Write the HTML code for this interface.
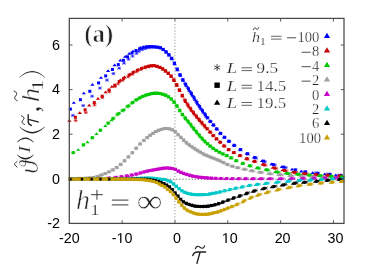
<!DOCTYPE html>
<html><head><meta charset="utf-8"><title>plot</title>
<style>html,body{margin:0;padding:0;background:#fff;}body{width:374px;height:273px;overflow:hidden;font-family:"Liberation Sans",sans-serif;}svg{display:block;will-change:transform;}</style>
</head><body>
<svg width="374" height="273" viewBox="0 0 374 273">
<rect width="374" height="273" fill="#fff"/>
<path d="M70.8 179.2H344.0" stroke="#5a5a5a" stroke-width="1" stroke-dasharray="1.1 2" fill="none"/>
<path d="M174.95 24.2V223.4" stroke="#8c8c8c" stroke-width="1" stroke-dasharray="1.1 2" fill="none"/>
<g id="data">
<path d="M70.90 115.40H74.90M72.90 114.00V116.80M71.34 113.84L74.46 116.96M71.34 116.96L74.46 113.84" stroke="#0000ff" stroke-width="0.6" fill="none"/>
<path d="M81.20 105.60H85.20M83.20 104.20V107.00M81.64 104.04L84.76 107.16M81.64 107.16L84.76 104.04" stroke="#0000ff" stroke-width="0.6" fill="none"/>
<path d="M90.10 96.20H94.10M92.10 94.80V97.60M90.54 94.64L93.66 97.76M90.54 97.76L93.66 94.64" stroke="#0000ff" stroke-width="0.6" fill="none"/>
<path d="M97.90 88.10H101.90M99.90 86.70V89.50M98.34 86.54L101.46 89.66M98.34 89.66L101.46 86.54" stroke="#0000ff" stroke-width="0.6" fill="none"/>
<path d="M105.00 80.10H109.00M107.00 78.70V81.50M105.44 78.54L108.56 81.66M105.44 81.66L108.56 78.54" stroke="#0000ff" stroke-width="0.6" fill="none"/>
<path d="M111.40 73.60H115.40M113.40 72.20V75.00M111.84 72.04L114.96 75.16M111.84 75.16L114.96 72.04" stroke="#0000ff" stroke-width="0.6" fill="none"/>
<path d="M117.20 68.20H121.20M119.20 66.80V69.60M117.64 66.64L120.76 69.76M117.64 69.76L120.76 66.64" stroke="#0000ff" stroke-width="0.6" fill="none"/>
<path d="M122.00 63.10H126.00M124.00 61.70V64.50M122.44 61.54L125.56 64.66M122.44 64.66L125.56 61.54" stroke="#0000ff" stroke-width="0.6" fill="none"/>
<path d="M126.50 59.20H130.50M128.50 57.80V60.60M126.94 57.64L130.06 60.76M126.94 60.76L130.06 57.64" stroke="#0000ff" stroke-width="0.6" fill="none"/>
<path d="M130.50 56.10H134.50M132.50 54.70V57.50M130.94 54.54L134.06 57.66M130.94 57.66L134.06 54.54" stroke="#0000ff" stroke-width="0.6" fill="none"/>
<path d="M134.50 53.30H138.50M136.50 51.90V54.70M134.94 51.74L138.06 54.86M134.94 54.86L138.06 51.74" stroke="#0000ff" stroke-width="0.6" fill="none"/>
<path d="M136.84 51.32H140.84M138.84 49.92V52.72M137.28 49.76L140.40 52.88M137.28 52.88L140.40 49.76" stroke="#0000ff" stroke-width="0.6" fill="none"/>
<path d="M140.32 49.68H144.32M142.32 48.28V51.08M140.76 48.12L143.88 51.24M140.76 51.24L143.88 48.12" stroke="#0000ff" stroke-width="0.6" fill="none"/>
<path d="M143.60 48.53H147.60M145.60 47.13V49.93M144.04 46.97L147.16 50.09M144.04 50.09L147.16 46.97" stroke="#0000ff" stroke-width="0.6" fill="none"/>
<path d="M146.61 47.73H150.61M148.61 46.33V49.13M147.05 46.17L150.17 49.29M147.05 49.29L150.17 46.17" stroke="#0000ff" stroke-width="0.6" fill="none"/>
<path d="M149.56 47.38H153.56M151.56 45.98V48.78M150.00 45.82L153.12 48.94M150.00 48.94L153.12 45.82" stroke="#0000ff" stroke-width="0.6" fill="none"/>
<path d="M152.40 47.31H156.40M154.40 45.91V48.71M152.84 45.75L155.96 48.87M152.84 48.87L155.96 45.75" stroke="#0000ff" stroke-width="0.6" fill="none"/>
<path d="M155.25 47.33H159.25M157.25 45.93V48.73M155.69 45.77L158.81 48.89M155.69 48.89L158.81 45.77" stroke="#0000ff" stroke-width="0.6" fill="none"/>
<path d="M158.09 47.62H162.09M160.09 46.22V49.02M158.53 46.06L161.65 49.18M158.53 49.18L161.65 46.06" stroke="#0000ff" stroke-width="0.6" fill="none"/>
<path d="M160.93 49.18H164.93M162.93 47.78V50.58M161.37 47.62L164.49 50.74M161.37 50.74L164.49 47.62" stroke="#0000ff" stroke-width="0.6" fill="none"/>
<path d="M163.78 51.58H167.78M165.78 50.18V52.98M164.22 50.02L167.34 53.14M164.22 53.14L167.34 50.02" stroke="#0000ff" stroke-width="0.6" fill="none"/>
<path d="M166.61 54.44H170.61M168.61 53.04V55.84M167.05 52.88L170.17 56.00M167.05 56.00L170.17 52.88" stroke="#0000ff" stroke-width="0.6" fill="none"/>
<path d="M169.41 58.04H173.41M171.41 56.64V59.44M169.85 56.48L172.97 59.60M169.85 59.60L172.97 56.48" stroke="#0000ff" stroke-width="0.6" fill="none"/>
<path d="M172.21 62.82H176.21M174.21 61.42V64.22M172.65 61.26L175.77 64.38M172.65 64.38L175.77 61.26" stroke="#0000ff" stroke-width="0.6" fill="none"/>
<path d="M175.01 68.70H179.01M177.01 67.30V70.10M175.45 67.14L178.57 70.26M175.45 70.26L178.57 67.14" stroke="#0000ff" stroke-width="0.6" fill="none"/>
<path d="M177.81 74.40H181.81M179.81 73.00V75.80M178.25 72.84L181.37 75.96M178.25 75.96L181.37 72.84" stroke="#0000ff" stroke-width="0.6" fill="none"/>
<path d="M180.61 79.34H184.61M182.61 77.94V80.74M181.05 77.78L184.17 80.90M181.05 80.90L184.17 77.78" stroke="#0000ff" stroke-width="0.6" fill="none"/>
<path d="M183.06 83.42H187.06M185.06 82.02V84.82M183.50 81.86L186.62 84.98M183.50 84.98L186.62 81.86" stroke="#0000ff" stroke-width="0.6" fill="none"/>
<path d="M185.56 87.42H189.56M187.56 86.02V88.82M186.00 85.86L189.12 88.98M186.00 88.98L189.12 85.86" stroke="#0000ff" stroke-width="0.6" fill="none"/>
<path d="M188.36 91.93H192.36M190.36 90.53V93.33M188.80 90.37L191.92 93.49M188.80 93.49L191.92 90.37" stroke="#0000ff" stroke-width="0.6" fill="none"/>
<path d="M191.16 96.49H195.16M193.16 95.09V97.89M191.60 94.93L194.72 98.05M191.60 98.05L194.72 94.93" stroke="#0000ff" stroke-width="0.6" fill="none"/>
<path d="M193.96 100.99H197.96M195.96 99.59V102.39M194.40 99.43L197.52 102.55M194.40 102.55L197.52 99.43" stroke="#0000ff" stroke-width="0.6" fill="none"/>
<path d="M196.76 105.31H200.76M198.76 103.91V106.71M197.20 103.75L200.32 106.87M197.20 106.87L200.32 103.75" stroke="#0000ff" stroke-width="0.6" fill="none"/>
<path d="M199.56 109.51H203.56M201.56 108.11V110.91M200.00 107.95L203.12 111.07M200.00 111.07L203.12 107.95" stroke="#0000ff" stroke-width="0.6" fill="none"/>
<path d="M202.36 113.58H206.36M204.36 112.18V114.98M202.80 112.02L205.92 115.14M202.80 115.14L205.92 112.02" stroke="#0000ff" stroke-width="0.6" fill="none"/>
<path d="M205.71 118.14H209.71M207.71 116.74V119.54M206.15 116.58L209.27 119.70M206.15 119.70L209.27 116.58" stroke="#0000ff" stroke-width="0.6" fill="none"/>
<path d="M208.71 121.82H212.71M210.71 120.42V123.22M209.15 120.26L212.27 123.38M209.15 123.38L212.27 120.26" stroke="#0000ff" stroke-width="0.6" fill="none"/>
<path d="M211.85 125.47H215.85M213.85 124.07V126.87M212.29 123.91L215.41 127.03M212.29 127.03L215.41 123.91" stroke="#0000ff" stroke-width="0.6" fill="none"/>
<path d="M215.16 129.45H219.16M217.16 128.05V130.85M215.60 127.89L218.72 131.01M215.60 131.01L218.72 127.89" stroke="#0000ff" stroke-width="0.6" fill="none"/>
<path d="M218.82 133.76H222.82M220.82 132.36V135.16M219.26 132.20L222.38 135.32M219.26 135.32L222.38 132.20" stroke="#0000ff" stroke-width="0.6" fill="none"/>
<path d="M222.86 137.67H226.86M224.86 136.27V139.07M223.30 136.11L226.42 139.23M223.30 139.23L226.42 136.11" stroke="#0000ff" stroke-width="0.6" fill="none"/>
<path d="M227.39 141.57H231.39M229.39 140.17V142.97M227.83 140.01L230.95 143.13M227.83 143.13L230.95 140.01" stroke="#0000ff" stroke-width="0.6" fill="none"/>
<path d="M232.66 145.68H236.66M234.66 144.28V147.08M233.10 144.12L236.22 147.24M233.10 147.24L236.22 144.12" stroke="#0000ff" stroke-width="0.6" fill="none"/>
<path d="M238.89 149.90H242.89M240.89 148.50V151.30M239.33 148.34L242.45 151.46M239.33 151.46L242.45 148.34" stroke="#0000ff" stroke-width="0.6" fill="none"/>
<path d="M246.17 154.12H250.17M248.17 152.72V155.52M246.61 152.56L249.73 155.68M246.61 155.68L249.73 152.56" stroke="#0000ff" stroke-width="0.6" fill="none"/>
<path d="M254.11 158.09H258.11M256.11 156.69V159.49M254.55 156.53L257.67 159.65M254.55 159.65L257.67 156.53" stroke="#0000ff" stroke-width="0.6" fill="none"/>
<path d="M262.94 161.68H266.94M264.94 160.28V163.08M263.38 160.12L266.50 163.24M263.38 163.24L266.50 160.12" stroke="#0000ff" stroke-width="0.6" fill="none"/>
<path d="M272.89 164.98H276.89M274.89 163.58V166.38M273.33 163.42L276.45 166.54M273.33 166.54L276.45 163.42" stroke="#0000ff" stroke-width="0.6" fill="none"/>
<path d="M283.77 167.59H287.77M285.77 166.19V168.99M284.21 166.03L287.33 169.15M284.21 169.15L287.33 166.03" stroke="#0000ff" stroke-width="0.6" fill="none"/>
<path d="M293.53 169.96H297.53M295.53 168.56V171.36M293.97 168.40L297.09 171.52M293.97 171.52L297.09 168.40" stroke="#0000ff" stroke-width="0.6" fill="none"/>
<path d="M302.27 171.74H306.27M304.27 170.34V173.14M302.71 170.18L305.83 173.30M302.71 173.30L305.83 170.18" stroke="#0000ff" stroke-width="0.6" fill="none"/>
<path d="M313.70 173.00H317.70M315.70 171.60V174.40M314.14 171.44L317.26 174.56M314.14 174.56L317.26 171.44" stroke="#0000ff" stroke-width="0.6" fill="none"/>
<path d="M325.80 174.11H329.80M327.80 172.71V175.51M326.24 172.55L329.36 175.67M326.24 175.67L329.36 172.55" stroke="#0000ff" stroke-width="0.6" fill="none"/>
<path d="M336.80 175.22H340.80M338.80 173.82V176.62M337.24 173.66L340.36 176.78M337.24 176.78L340.36 173.66" stroke="#0000ff" stroke-width="0.6" fill="none"/>
<rect x="68.90" y="107.60" width="3.0" height="3.0" fill="#0000ff"/>
<rect x="78.90" y="98.20" width="3.0" height="3.0" fill="#0000ff"/>
<rect x="88.30" y="89.80" width="3.0" height="3.0" fill="#0000ff"/>
<rect x="97.10" y="81.40" width="3.0" height="3.0" fill="#0000ff"/>
<rect x="104.20" y="74.40" width="3.0" height="3.0" fill="#0000ff"/>
<rect x="110.90" y="68.00" width="3.0" height="3.0" fill="#0000ff"/>
<rect x="116.80" y="63.10" width="3.0" height="3.0" fill="#0000ff"/>
<rect x="121.90" y="58.80" width="3.0" height="3.0" fill="#0000ff"/>
<rect x="126.00" y="55.30" width="3.0" height="3.0" fill="#0000ff"/>
<rect x="130.50" y="51.50" width="3.0" height="3.0" fill="#0000ff"/>
<rect x="134.50" y="49.00" width="3.0" height="3.0" fill="#0000ff"/>
<rect x="138.10" y="47.40" width="3.0" height="3.0" fill="#0000ff"/>
<rect x="141.50" y="46.20" width="3.0" height="3.0" fill="#0000ff"/>
<rect x="144.70" y="45.47" width="3.0" height="3.0" fill="#0000ff"/>
<rect x="147.69" y="45.04" width="3.0" height="3.0" fill="#0000ff"/>
<rect x="150.59" y="45.06" width="3.0" height="3.0" fill="#0000ff"/>
<rect x="153.39" y="45.29" width="3.0" height="3.0" fill="#0000ff"/>
<rect x="156.19" y="45.63" width="3.0" height="3.0" fill="#0000ff"/>
<rect x="158.99" y="46.25" width="3.0" height="3.0" fill="#0000ff"/>
<rect x="161.79" y="47.96" width="3.0" height="3.0" fill="#0000ff"/>
<rect x="164.59" y="50.35" width="3.0" height="3.0" fill="#0000ff"/>
<rect x="167.39" y="53.27" width="3.0" height="3.0" fill="#0000ff"/>
<rect x="170.19" y="56.94" width="3.0" height="3.0" fill="#0000ff"/>
<rect x="172.99" y="61.88" width="3.0" height="3.0" fill="#0000ff"/>
<rect x="175.79" y="67.82" width="3.0" height="3.0" fill="#0000ff"/>
<rect x="178.59" y="73.41" width="3.0" height="3.0" fill="#0000ff"/>
<rect x="181.39" y="78.32" width="3.0" height="3.0" fill="#0000ff"/>
<rect x="184.19" y="82.93" width="3.0" height="3.0" fill="#0000ff"/>
<rect x="186.99" y="87.40" width="3.0" height="3.0" fill="#0000ff"/>
<rect x="189.79" y="91.94" width="3.0" height="3.0" fill="#0000ff"/>
<rect x="192.59" y="96.49" width="3.0" height="3.0" fill="#0000ff"/>
<rect x="195.39" y="100.93" width="3.0" height="3.0" fill="#0000ff"/>
<rect x="198.19" y="105.20" width="3.0" height="3.0" fill="#0000ff"/>
<rect x="200.99" y="109.38" width="3.0" height="3.0" fill="#0000ff"/>
<rect x="203.79" y="113.38" width="3.0" height="3.0" fill="#0000ff"/>
<rect x="205.79" y="116.10" width="3.0" height="3.0" fill="#0000ff"/>
<rect x="208.78" y="119.82" width="3.0" height="3.0" fill="#0000ff"/>
<rect x="211.92" y="123.47" width="3.0" height="3.0" fill="#0000ff"/>
<rect x="215.22" y="127.39" width="3.0" height="3.0" fill="#0000ff"/>
<rect x="218.87" y="131.79" width="3.0" height="3.0" fill="#0000ff"/>
<rect x="222.89" y="135.75" width="3.0" height="3.0" fill="#0000ff"/>
<rect x="227.42" y="139.68" width="3.0" height="3.0" fill="#0000ff"/>
<rect x="232.67" y="143.82" width="3.0" height="3.0" fill="#0000ff"/>
<rect x="238.87" y="148.08" width="3.0" height="3.0" fill="#0000ff"/>
<rect x="245.87" y="152.18" width="3.0" height="3.0" fill="#0000ff"/>
<rect x="253.50" y="156.08" width="3.0" height="3.0" fill="#0000ff"/>
<rect x="262.00" y="159.64" width="3.0" height="3.0" fill="#0000ff"/>
<rect x="271.70" y="163.00" width="3.0" height="3.0" fill="#0000ff"/>
<rect x="282.30" y="165.60" width="3.0" height="3.0" fill="#0000ff"/>
<rect x="293.81" y="168.41" width="3.0" height="3.0" fill="#0000ff"/>
<rect x="304.22" y="170.44" width="3.0" height="3.0" fill="#0000ff"/>
<rect x="316.50" y="171.73" width="3.0" height="3.0" fill="#0000ff"/>
<rect x="328.60" y="172.83" width="3.0" height="3.0" fill="#0000ff"/>
<rect x="339.60" y="173.90" width="3.0" height="3.0" fill="#0000ff"/>
<path d="M71.65 103.85L75.95 103.85L73.80 101.15Z" fill="#0000ff"/>
<path d="M81.65 94.35L85.95 94.35L83.80 91.65Z" fill="#0000ff"/>
<path d="M90.25 85.75L94.55 85.75L92.40 83.05Z" fill="#0000ff"/>
<path d="M98.85 78.85L103.15 78.85L101.00 76.15Z" fill="#0000ff"/>
<path d="M105.95 71.95L110.25 71.95L108.10 69.25Z" fill="#0000ff"/>
<path d="M112.45 66.25L116.75 66.25L114.60 63.55Z" fill="#0000ff"/>
<path d="M118.15 61.55L122.45 61.55L120.30 58.85Z" fill="#0000ff"/>
<path d="M123.05 57.75L127.35 57.75L125.20 55.05Z" fill="#0000ff"/>
<path d="M127.05 54.75L131.35 54.75L129.20 52.05Z" fill="#0000ff"/>
<path d="M130.85 52.35L135.15 52.35L133.00 49.65Z" fill="#0000ff"/>
<path d="M138.21 48.79L142.51 48.79L140.36 46.09Z" fill="#0000ff"/>
<path d="M141.53 47.91L145.83 47.91L143.68 45.21Z" fill="#0000ff"/>
<path d="M144.65 47.49L148.95 47.49L146.80 44.79Z" fill="#0000ff"/>
<path d="M147.62 47.34L151.92 47.34L149.77 44.64Z" fill="#0000ff"/>
<path d="M150.46 47.58L154.76 47.58L152.61 44.88Z" fill="#0000ff"/>
<path d="M153.22 47.95L157.52 47.95L155.37 45.25Z" fill="#0000ff"/>
<path d="M155.98 48.46L160.28 48.46L158.13 45.76Z" fill="#0000ff"/>
<path d="M158.73 49.26L163.03 49.26L160.88 46.56Z" fill="#0000ff"/>
<path d="M161.49 51.09L165.79 51.09L163.64 48.39Z" fill="#0000ff"/>
<path d="M164.25 53.49L168.55 53.49L166.40 50.79Z" fill="#0000ff"/>
<path d="M167.02 56.45L171.32 56.45L169.17 53.75Z" fill="#0000ff"/>
<path d="M169.82 60.20L174.12 60.20L171.97 57.50Z" fill="#0000ff"/>
<path d="M172.62 65.29L176.92 65.29L174.77 62.59Z" fill="#0000ff"/>
<path d="M175.42 71.29L179.72 71.29L177.57 68.59Z" fill="#0000ff"/>
<path d="M178.22 76.77L182.52 76.77L180.37 74.07Z" fill="#0000ff"/>
<path d="M181.02 81.64L185.32 81.64L183.17 78.94Z" fill="#0000ff"/>
<path d="M184.16 86.78L188.46 86.78L186.31 84.08Z" fill="#0000ff"/>
<path d="M187.26 91.74L191.56 91.74L189.41 89.04Z" fill="#0000ff"/>
<path d="M190.06 96.30L194.36 96.30L192.21 93.60Z" fill="#0000ff"/>
<path d="M192.86 100.82L197.16 100.82L195.01 98.12Z" fill="#0000ff"/>
<path d="M195.66 105.21L199.96 105.21L197.81 102.51Z" fill="#0000ff"/>
<path d="M198.46 109.44L202.76 109.44L200.61 106.74Z" fill="#0000ff"/>
<path d="M201.26 113.57L205.56 113.57L203.41 110.87Z" fill="#0000ff"/>
<path d="M204.06 117.50L208.36 117.50L206.21 114.80Z" fill="#0000ff"/>
<path d="M207.70 122.16L212.00 122.16L209.85 119.46Z" fill="#0000ff"/>
<path d="M210.84 125.82L215.14 125.82L212.99 123.12Z" fill="#0000ff"/>
<path d="M214.13 129.69L218.43 129.69L216.28 126.99Z" fill="#0000ff"/>
<path d="M217.76 134.16L222.06 134.16L219.91 131.46Z" fill="#0000ff"/>
<path d="M221.78 138.18L226.08 138.18L223.93 135.48Z" fill="#0000ff"/>
<path d="M226.30 142.14L230.60 142.14L228.45 139.44Z" fill="#0000ff"/>
<path d="M231.53 146.31L235.83 146.31L233.68 143.61Z" fill="#0000ff"/>
<path d="M237.71 150.60L242.01 150.60L239.86 147.90Z" fill="#0000ff"/>
<path d="M244.42 154.59L248.72 154.59L246.57 151.89Z" fill="#0000ff"/>
<path d="M251.74 158.40L256.04 158.40L253.89 155.70Z" fill="#0000ff"/>
<path d="M259.91 161.94L264.21 161.94L262.06 159.24Z" fill="#0000ff"/>
<path d="M269.36 165.32L273.66 165.32L271.51 162.62Z" fill="#0000ff"/>
<path d="M279.68 167.99L283.98 167.99L281.83 165.29Z" fill="#0000ff"/>
<path d="M289.96 170.53L294.26 170.53L292.11 167.83Z" fill="#0000ff"/>
<path d="M299.04 172.54L303.34 172.54L301.19 169.84Z" fill="#0000ff"/>
<path d="M310.55 174.06L314.85 174.06L312.70 171.36Z" fill="#0000ff"/>
<path d="M322.65 175.19L326.95 175.19L324.80 172.49Z" fill="#0000ff"/>
<path d="M333.65 176.28L337.95 176.28L335.80 173.58Z" fill="#0000ff"/>
<path d="M73.70 120.50H77.70M75.70 119.10V121.90M74.14 118.94L77.26 122.06M74.14 122.06L77.26 118.94" stroke="#c80000" stroke-width="0.6" fill="none"/>
<path d="M83.80 112.60H87.80M85.80 111.20V114.00M84.24 111.04L87.36 114.16M84.24 114.16L87.36 111.04" stroke="#c80000" stroke-width="0.6" fill="none"/>
<path d="M92.50 105.00H96.50M94.50 103.60V106.40M92.94 103.44L96.06 106.56M92.94 106.56L96.06 103.44" stroke="#c80000" stroke-width="0.6" fill="none"/>
<path d="M100.40 97.60H104.40M102.40 96.20V99.00M100.84 96.04L103.96 99.16M100.84 99.16L103.96 96.04" stroke="#c80000" stroke-width="0.6" fill="none"/>
<path d="M107.30 91.80H111.30M109.30 90.40V93.20M107.74 90.24L110.86 93.36M107.74 93.36L110.86 90.24" stroke="#c80000" stroke-width="0.6" fill="none"/>
<path d="M113.00 86.60H117.00M115.00 85.20V88.00M113.44 85.04L116.56 88.16M113.44 88.16L116.56 85.04" stroke="#c80000" stroke-width="0.6" fill="none"/>
<path d="M116.11 83.85H120.11M118.11 82.45V85.25M116.55 82.29L119.67 85.41M116.55 85.41L119.67 82.29" stroke="#c80000" stroke-width="0.6" fill="none"/>
<path d="M120.58 80.40H124.58M122.58 79.00V81.80M121.02 78.84L124.14 81.96M121.02 81.96L124.14 78.84" stroke="#c80000" stroke-width="0.6" fill="none"/>
<path d="M126.16 76.87H130.16M128.16 75.47V78.27M126.60 75.31L129.72 78.43M126.60 78.43L129.72 75.31" stroke="#c80000" stroke-width="0.6" fill="none"/>
<path d="M130.12 74.37H134.12M132.12 72.97V75.77M130.56 72.81L133.68 75.93M130.56 75.93L133.68 72.81" stroke="#c80000" stroke-width="0.6" fill="none"/>
<path d="M134.59 71.70H138.59M136.59 70.30V73.10M135.03 70.14L138.15 73.26M135.03 73.26L138.15 70.14" stroke="#c80000" stroke-width="0.6" fill="none"/>
<path d="M138.79 69.67H142.79M140.79 68.27V71.07M139.23 68.11L142.35 71.23M139.23 71.23L142.35 68.11" stroke="#c80000" stroke-width="0.6" fill="none"/>
<path d="M142.68 67.93H146.68M144.68 66.53V69.33M143.12 66.37L146.24 69.49M143.12 69.49L146.24 66.37" stroke="#c80000" stroke-width="0.6" fill="none"/>
<path d="M146.02 66.83H150.02M148.02 65.43V68.23M146.46 65.27L149.58 68.39M146.46 68.39L149.58 65.27" stroke="#c80000" stroke-width="0.6" fill="none"/>
<path d="M148.97 66.04H152.97M150.97 64.64V67.44M149.41 64.48L152.53 67.60M149.41 67.60L152.53 64.48" stroke="#c80000" stroke-width="0.6" fill="none"/>
<path d="M151.84 65.71H155.84M153.84 64.31V67.11M152.28 64.15L155.40 67.27M152.28 67.27L155.40 64.15" stroke="#c80000" stroke-width="0.6" fill="none"/>
<path d="M154.68 66.21H158.68M156.68 64.81V67.61M155.12 64.65L158.24 67.77M155.12 67.77L158.24 64.65" stroke="#c80000" stroke-width="0.6" fill="none"/>
<path d="M157.52 67.20H161.52M159.52 65.80V68.60M157.96 65.64L161.08 68.76M157.96 68.76L161.08 65.64" stroke="#c80000" stroke-width="0.6" fill="none"/>
<path d="M160.37 68.57H164.37M162.37 67.17V69.97M160.81 67.01L163.93 70.13M160.81 70.13L163.93 67.01" stroke="#c80000" stroke-width="0.6" fill="none"/>
<path d="M163.21 70.64H167.21M165.21 69.24V72.04M163.65 69.08L166.77 72.20M163.65 72.20L166.77 69.08" stroke="#c80000" stroke-width="0.6" fill="none"/>
<path d="M166.05 72.99H170.05M168.05 71.59V74.39M166.49 71.43L169.61 74.55M166.49 74.55L169.61 71.43" stroke="#c80000" stroke-width="0.6" fill="none"/>
<path d="M168.85 75.84H172.85M170.85 74.44V77.24M169.29 74.28L172.41 77.40M169.29 77.40L172.41 74.28" stroke="#c80000" stroke-width="0.6" fill="none"/>
<path d="M171.65 79.65H175.65M173.65 78.25V81.05M172.09 78.09L175.21 81.21M172.09 81.21L175.21 78.09" stroke="#c80000" stroke-width="0.6" fill="none"/>
<path d="M174.45 84.32H178.45M176.45 82.92V85.72M174.89 82.76L178.01 85.88M174.89 85.88L178.01 82.76" stroke="#c80000" stroke-width="0.6" fill="none"/>
<path d="M177.25 89.53H181.25M179.25 88.13V90.93M177.69 87.97L180.81 91.09M177.69 91.09L180.81 87.97" stroke="#c80000" stroke-width="0.6" fill="none"/>
<path d="M180.05 95.02H184.05M182.05 93.62V96.42M180.49 93.46L183.61 96.58M180.49 96.58L183.61 93.46" stroke="#c80000" stroke-width="0.6" fill="none"/>
<path d="M182.58 99.70H186.58M184.58 98.30V101.10M183.02 98.14L186.14 101.26M183.02 101.26L186.14 98.14" stroke="#c80000" stroke-width="0.6" fill="none"/>
<path d="M185.01 103.67H189.01M187.01 102.27V105.07M185.45 102.11L188.57 105.23M185.45 105.23L188.57 102.11" stroke="#c80000" stroke-width="0.6" fill="none"/>
<path d="M187.81 107.77H191.81M189.81 106.37V109.17M188.25 106.21L191.37 109.33M188.25 109.33L191.37 106.21" stroke="#c80000" stroke-width="0.6" fill="none"/>
<path d="M190.61 111.55H194.61M192.61 110.15V112.95M191.05 109.99L194.17 113.11M191.05 113.11L194.17 109.99" stroke="#c80000" stroke-width="0.6" fill="none"/>
<path d="M193.41 115.10H197.41M195.41 113.70V116.50M193.85 113.54L196.97 116.66M193.85 116.66L196.97 113.54" stroke="#c80000" stroke-width="0.6" fill="none"/>
<path d="M196.21 118.53H200.21M198.21 117.13V119.93M196.65 116.97L199.77 120.09M196.65 120.09L199.77 116.97" stroke="#c80000" stroke-width="0.6" fill="none"/>
<path d="M199.01 121.83H203.01M201.01 120.43V123.23M199.45 120.27L202.57 123.39M199.45 123.39L202.57 120.27" stroke="#c80000" stroke-width="0.6" fill="none"/>
<path d="M201.81 125.00H205.81M203.81 123.60V126.40M202.25 123.44L205.37 126.56M202.25 126.56L205.37 123.44" stroke="#c80000" stroke-width="0.6" fill="none"/>
<path d="M205.54 129.16H209.54M207.54 127.76V130.56M205.98 127.60L209.10 130.72M205.98 130.72L209.10 127.60" stroke="#c80000" stroke-width="0.6" fill="none"/>
<path d="M208.52 132.50H212.52M210.52 131.10V133.90M208.96 130.94L212.08 134.06M208.96 134.06L212.08 130.94" stroke="#c80000" stroke-width="0.6" fill="none"/>
<path d="M211.66 135.91H215.66M213.66 134.51V137.31M212.10 134.35L215.22 137.47M212.10 137.47L215.22 134.35" stroke="#c80000" stroke-width="0.6" fill="none"/>
<path d="M214.96 139.21H218.96M216.96 137.81V140.61M215.40 137.65L218.52 140.77M215.40 140.77L218.52 137.65" stroke="#c80000" stroke-width="0.6" fill="none"/>
<path d="M218.59 142.54H222.59M220.59 141.14V143.94M219.03 140.98L222.15 144.10M219.03 144.10L222.15 140.98" stroke="#c80000" stroke-width="0.6" fill="none"/>
<path d="M222.60 146.29H226.60M224.60 144.89V147.69M223.04 144.73L226.16 147.85M223.04 147.85L226.16 144.73" stroke="#c80000" stroke-width="0.6" fill="none"/>
<path d="M227.11 149.87H231.11M229.11 148.47V151.27M227.55 148.31L230.67 151.43M227.55 151.43L230.67 148.31" stroke="#c80000" stroke-width="0.6" fill="none"/>
<path d="M232.32 152.76H236.32M234.32 151.36V154.16M232.76 151.20L235.88 154.32M232.76 154.32L235.88 151.20" stroke="#c80000" stroke-width="0.6" fill="none"/>
<path d="M238.47 155.77H242.47M240.47 154.37V157.17M238.91 154.21L242.03 157.33M238.91 157.33L242.03 154.21" stroke="#c80000" stroke-width="0.6" fill="none"/>
<path d="M245.72 159.03H249.72M247.72 157.63V160.43M246.16 157.47L249.28 160.59M246.16 160.59L249.28 157.47" stroke="#c80000" stroke-width="0.6" fill="none"/>
<path d="M253.59 161.69H257.59M255.59 160.29V163.09M254.03 160.13L257.15 163.25M254.03 163.25L257.15 160.13" stroke="#c80000" stroke-width="0.6" fill="none"/>
<path d="M263.45 165.19H267.45M265.45 163.79V166.59M263.89 163.63L267.01 166.75M263.89 166.75L267.01 163.63" stroke="#c80000" stroke-width="0.6" fill="none"/>
<path d="M274.23 168.45H278.23M276.23 167.05V169.85M274.67 166.89L277.79 170.01M274.67 170.01L277.79 166.89" stroke="#c80000" stroke-width="0.6" fill="none"/>
<path d="M284.49 170.87H288.49M286.49 169.47V172.27M284.93 169.31L288.05 172.43M284.93 172.43L288.05 169.31" stroke="#c80000" stroke-width="0.6" fill="none"/>
<path d="M294.35 172.57H298.35M296.35 171.17V173.97M294.79 171.01L297.91 174.13M294.79 174.13L297.91 171.01" stroke="#c80000" stroke-width="0.6" fill="none"/>
<path d="M304.68 173.85H308.68M306.68 172.45V175.25M305.12 172.29L308.24 175.41M305.12 175.41L308.24 172.29" stroke="#c80000" stroke-width="0.6" fill="none"/>
<path d="M315.55 174.79H319.55M317.55 173.39V176.19M315.99 173.23L319.11 176.35M315.99 176.35L319.11 173.23" stroke="#c80000" stroke-width="0.6" fill="none"/>
<path d="M326.95 175.36H330.95M328.95 173.96V176.76M327.39 173.80L330.51 176.92M327.39 176.92L330.51 173.80" stroke="#c80000" stroke-width="0.6" fill="none"/>
<path d="M338.84 175.95H342.84M340.84 174.55V177.35M339.28 174.39L342.40 177.51M339.28 177.51L342.40 174.39" stroke="#c80000" stroke-width="0.6" fill="none"/>
<rect x="73.90" y="115.80" width="3.0" height="3.0" fill="#c80000"/>
<rect x="83.60" y="108.30" width="3.0" height="3.0" fill="#c80000"/>
<rect x="92.80" y="101.10" width="3.0" height="3.0" fill="#c80000"/>
<rect x="100.70" y="94.70" width="3.0" height="3.0" fill="#c80000"/>
<rect x="107.60" y="88.50" width="3.0" height="3.0" fill="#c80000"/>
<rect x="113.30" y="83.70" width="3.0" height="3.0" fill="#c80000"/>
<rect x="117.70" y="79.98" width="3.0" height="3.0" fill="#c80000"/>
<rect x="122.10" y="76.86" width="3.0" height="3.0" fill="#c80000"/>
<rect x="127.60" y="73.56" width="3.0" height="3.0" fill="#c80000"/>
<rect x="131.50" y="71.16" width="3.0" height="3.0" fill="#c80000"/>
<rect x="135.90" y="68.72" width="3.0" height="3.0" fill="#c80000"/>
<rect x="140.00" y="66.93" width="3.0" height="3.0" fill="#c80000"/>
<rect x="143.80" y="65.55" width="3.0" height="3.0" fill="#c80000"/>
<rect x="147.10" y="64.73" width="3.0" height="3.0" fill="#c80000"/>
<rect x="150.01" y="64.19" width="3.0" height="3.0" fill="#c80000"/>
<rect x="152.83" y="64.19" width="3.0" height="3.0" fill="#c80000"/>
<rect x="155.63" y="64.85" width="3.0" height="3.0" fill="#c80000"/>
<rect x="158.43" y="65.86" width="3.0" height="3.0" fill="#c80000"/>
<rect x="161.23" y="67.31" width="3.0" height="3.0" fill="#c80000"/>
<rect x="164.03" y="69.39" width="3.0" height="3.0" fill="#c80000"/>
<rect x="166.83" y="71.75" width="3.0" height="3.0" fill="#c80000"/>
<rect x="169.63" y="74.66" width="3.0" height="3.0" fill="#c80000"/>
<rect x="172.43" y="78.59" width="3.0" height="3.0" fill="#c80000"/>
<rect x="175.23" y="83.33" width="3.0" height="3.0" fill="#c80000"/>
<rect x="178.03" y="88.56" width="3.0" height="3.0" fill="#c80000"/>
<rect x="180.83" y="94.07" width="3.0" height="3.0" fill="#c80000"/>
<rect x="183.63" y="99.13" width="3.0" height="3.0" fill="#c80000"/>
<rect x="186.43" y="103.57" width="3.0" height="3.0" fill="#c80000"/>
<rect x="189.23" y="107.55" width="3.0" height="3.0" fill="#c80000"/>
<rect x="192.03" y="111.24" width="3.0" height="3.0" fill="#c80000"/>
<rect x="194.83" y="114.74" width="3.0" height="3.0" fill="#c80000"/>
<rect x="197.63" y="118.14" width="3.0" height="3.0" fill="#c80000"/>
<rect x="200.43" y="121.38" width="3.0" height="3.0" fill="#c80000"/>
<rect x="203.23" y="124.53" width="3.0" height="3.0" fill="#c80000"/>
<rect x="205.62" y="127.19" width="3.0" height="3.0" fill="#c80000"/>
<rect x="208.60" y="130.53" width="3.0" height="3.0" fill="#c80000"/>
<rect x="211.73" y="133.95" width="3.0" height="3.0" fill="#c80000"/>
<rect x="215.02" y="137.29" width="3.0" height="3.0" fill="#c80000"/>
<rect x="218.64" y="140.63" width="3.0" height="3.0" fill="#c80000"/>
<rect x="222.64" y="144.37" width="3.0" height="3.0" fill="#c80000"/>
<rect x="227.14" y="148.06" width="3.0" height="3.0" fill="#c80000"/>
<rect x="232.34" y="151.02" width="3.0" height="3.0" fill="#c80000"/>
<rect x="238.47" y="154.03" width="3.0" height="3.0" fill="#c80000"/>
<rect x="245.44" y="157.22" width="3.0" height="3.0" fill="#c80000"/>
<rect x="253.00" y="159.83" width="3.0" height="3.0" fill="#c80000"/>
<rect x="262.50" y="163.19" width="3.0" height="3.0" fill="#c80000"/>
<rect x="273.00" y="166.48" width="3.0" height="3.0" fill="#c80000"/>
<rect x="283.00" y="168.95" width="3.0" height="3.0" fill="#c80000"/>
<rect x="293.00" y="170.80" width="3.0" height="3.0" fill="#c80000"/>
<rect x="303.50" y="172.16" width="3.0" height="3.0" fill="#c80000"/>
<rect x="314.50" y="173.20" width="3.0" height="3.0" fill="#c80000"/>
<rect x="326.00" y="173.79" width="3.0" height="3.0" fill="#c80000"/>
<rect x="338.00" y="174.39" width="3.0" height="3.0" fill="#c80000"/>
<path d="M67.25 121.65L71.55 121.65L69.40 118.95Z" fill="#c80000"/>
<path d="M77.65 113.95L81.95 113.95L79.80 111.25Z" fill="#c80000"/>
<path d="M87.05 106.45L91.35 106.45L89.20 103.75Z" fill="#c80000"/>
<path d="M95.85 99.75L100.15 99.75L98.00 97.05Z" fill="#c80000"/>
<path d="M103.45 93.15L107.75 93.15L105.60 90.45Z" fill="#c80000"/>
<path d="M109.75 87.65L114.05 87.65L111.90 84.95Z" fill="#c80000"/>
<path d="M118.14 81.16L122.44 81.16L120.29 78.46Z" fill="#c80000"/>
<path d="M122.47 78.32L126.77 78.32L124.62 75.62Z" fill="#c80000"/>
<path d="M127.89 75.13L132.19 75.13L130.04 72.43Z" fill="#c80000"/>
<path d="M131.73 72.82L136.03 72.82L133.88 70.12Z" fill="#c80000"/>
<path d="M136.06 70.58L140.36 70.58L138.21 67.88Z" fill="#c80000"/>
<path d="M140.06 68.98L144.36 68.98L142.21 66.28Z" fill="#c80000"/>
<path d="M143.77 67.86L148.07 67.86L145.92 65.16Z" fill="#c80000"/>
<path d="M147.03 67.22L151.33 67.22L149.18 64.52Z" fill="#c80000"/>
<path d="M149.90 66.87L154.20 66.87L152.05 64.17Z" fill="#c80000"/>
<path d="M152.67 67.11L156.97 67.11L154.82 64.41Z" fill="#c80000"/>
<path d="M155.43 67.85L159.73 67.85L157.58 65.15Z" fill="#c80000"/>
<path d="M158.19 68.86L162.49 68.86L160.34 66.16Z" fill="#c80000"/>
<path d="M160.94 70.40L165.24 70.40L163.09 67.70Z" fill="#c80000"/>
<path d="M163.70 72.49L168.00 72.49L165.85 69.79Z" fill="#c80000"/>
<path d="M166.46 74.87L170.76 74.87L168.61 72.17Z" fill="#c80000"/>
<path d="M169.26 77.84L173.56 77.84L171.41 75.14Z" fill="#c80000"/>
<path d="M172.06 81.89L176.36 81.89L174.21 79.19Z" fill="#c80000"/>
<path d="M174.86 86.69L179.16 86.69L177.01 83.99Z" fill="#c80000"/>
<path d="M177.66 91.94L181.96 91.94L179.81 89.24Z" fill="#c80000"/>
<path d="M180.46 97.47L184.76 97.47L182.61 94.77Z" fill="#c80000"/>
<path d="M183.53 102.90L187.83 102.90L185.68 100.20Z" fill="#c80000"/>
<path d="M186.69 107.76L190.99 107.76L188.84 105.06Z" fill="#c80000"/>
<path d="M189.50 111.65L193.80 111.65L191.65 108.95Z" fill="#c80000"/>
<path d="M192.30 115.26L196.60 115.26L194.45 112.56Z" fill="#c80000"/>
<path d="M195.10 118.72L199.40 118.72L197.25 116.02Z" fill="#c80000"/>
<path d="M197.90 122.07L202.20 122.07L200.05 119.37Z" fill="#c80000"/>
<path d="M200.70 125.28L205.00 125.28L202.85 122.58Z" fill="#c80000"/>
<path d="M203.50 128.41L207.80 128.41L205.65 125.71Z" fill="#c80000"/>
<path d="M207.52 132.90L211.82 132.90L209.67 130.20Z" fill="#c80000"/>
<path d="M210.64 136.34L214.94 136.34L212.79 133.64Z" fill="#c80000"/>
<path d="M213.93 139.72L218.23 139.72L216.08 137.02Z" fill="#c80000"/>
<path d="M217.54 143.07L221.84 143.07L219.69 140.37Z" fill="#c80000"/>
<path d="M221.53 146.79L225.83 146.79L223.68 144.09Z" fill="#c80000"/>
<path d="M226.01 150.58L230.31 150.58L228.16 147.88Z" fill="#c80000"/>
<path d="M231.20 153.62L235.50 153.62L233.35 150.92Z" fill="#c80000"/>
<path d="M237.32 156.63L241.62 156.63L239.47 153.93Z" fill="#c80000"/>
<path d="M244.00 159.74L248.30 159.74L246.15 157.04Z" fill="#c80000"/>
<path d="M251.26 162.33L255.56 162.33L253.41 159.63Z" fill="#c80000"/>
<path d="M260.40 165.52L264.70 165.52L262.55 162.82Z" fill="#c80000"/>
<path d="M270.62 168.84L274.92 168.84L272.77 166.14Z" fill="#c80000"/>
<path d="M280.36 171.36L284.66 171.36L282.51 168.66Z" fill="#c80000"/>
<path d="M290.50 173.36L294.80 173.36L292.65 170.66Z" fill="#c80000"/>
<path d="M301.17 174.82L305.47 174.82L303.32 172.12Z" fill="#c80000"/>
<path d="M312.30 175.95L316.60 175.95L314.45 173.25Z" fill="#c80000"/>
<path d="M323.90 176.57L328.20 176.57L326.05 173.87Z" fill="#c80000"/>
<path d="M336.01 177.17L340.31 177.17L338.16 174.47Z" fill="#c80000"/>
<path d="M71.40 152.49H75.40M73.40 151.09V153.89M71.84 150.93L74.96 154.05M71.84 154.05L74.96 150.93" stroke="#00c800" stroke-width="0.6" fill="none"/>
<path d="M81.70 144.66H85.70M83.70 143.26V146.06M82.14 143.10L85.26 146.22M82.14 146.22L85.26 143.10" stroke="#00c800" stroke-width="0.6" fill="none"/>
<path d="M90.50 137.52H94.50M92.50 136.12V138.92M90.94 135.96L94.06 139.08M90.94 139.08L94.06 135.96" stroke="#00c800" stroke-width="0.6" fill="none"/>
<path d="M98.60 130.03H102.60M100.60 128.63V131.43M99.04 128.47L102.16 131.59M99.04 131.59L102.16 128.47" stroke="#00c800" stroke-width="0.6" fill="none"/>
<path d="M106.40 122.93H110.40M108.40 121.53V124.33M106.84 121.37L109.96 124.49M106.84 124.49L109.96 121.37" stroke="#00c800" stroke-width="0.6" fill="none"/>
<path d="M111.60 118.05H115.60M113.60 116.65V119.45M112.04 116.49L115.16 119.61M112.04 119.61L115.16 116.49" stroke="#00c800" stroke-width="0.6" fill="none"/>
<path d="M114.99 114.86H118.99M116.99 113.46V116.26M115.43 113.30L118.55 116.42M115.43 116.42L118.55 113.30" stroke="#00c800" stroke-width="0.6" fill="none"/>
<path d="M120.07 110.94H124.07M122.07 109.54V112.34M120.51 109.38L123.63 112.50M120.51 112.50L123.63 109.38" stroke="#00c800" stroke-width="0.6" fill="none"/>
<path d="M125.05 106.87H129.05M127.05 105.47V108.27M125.49 105.31L128.61 108.43M125.49 108.43L128.61 105.31" stroke="#00c800" stroke-width="0.6" fill="none"/>
<path d="M129.51 103.28H133.51M131.51 101.88V104.68M129.95 101.72L133.07 104.84M129.95 104.84L133.07 101.72" stroke="#00c800" stroke-width="0.6" fill="none"/>
<path d="M133.47 100.33H137.47M135.47 98.93V101.73M133.91 98.77L137.03 101.89M133.91 101.89L137.03 98.77" stroke="#00c800" stroke-width="0.6" fill="none"/>
<path d="M136.84 98.30H140.84M138.84 96.90V99.70M137.28 96.74L140.40 99.86M137.28 99.86L140.40 96.74" stroke="#00c800" stroke-width="0.6" fill="none"/>
<path d="M140.12 96.60H144.12M142.12 95.20V98.00M140.56 95.04L143.68 98.16M140.56 98.16L143.68 95.04" stroke="#00c800" stroke-width="0.6" fill="none"/>
<path d="M143.30 95.25H147.30M145.30 93.85V96.65M143.74 93.69L146.86 96.81M143.74 96.81L146.86 93.69" stroke="#00c800" stroke-width="0.6" fill="none"/>
<path d="M146.22 94.39H150.22M148.22 92.99V95.79M146.66 92.83L149.78 95.95M146.66 95.95L149.78 92.83" stroke="#00c800" stroke-width="0.6" fill="none"/>
<path d="M149.17 93.68H153.17M151.17 92.28V95.08M149.61 92.12L152.73 95.24M149.61 95.24L152.73 92.12" stroke="#00c800" stroke-width="0.6" fill="none"/>
<path d="M152.03 93.21H156.03M154.03 91.81V94.61M152.47 91.65L155.59 94.77M152.47 94.77L155.59 91.65" stroke="#00c800" stroke-width="0.6" fill="none"/>
<path d="M154.87 93.13H158.87M156.87 91.73V94.53M155.31 91.57L158.43 94.69M155.31 94.69L158.43 91.57" stroke="#00c800" stroke-width="0.6" fill="none"/>
<path d="M157.71 93.48H161.71M159.71 92.08V94.88M158.15 91.92L161.27 95.04M158.15 95.04L161.27 91.92" stroke="#00c800" stroke-width="0.6" fill="none"/>
<path d="M160.56 94.12H164.56M162.56 92.72V95.52M161.00 92.56L164.12 95.68M161.00 95.68L164.12 92.56" stroke="#00c800" stroke-width="0.6" fill="none"/>
<path d="M163.40 94.99H167.40M165.40 93.59V96.39M163.84 93.43L166.96 96.55M163.84 96.55L166.96 93.43" stroke="#00c800" stroke-width="0.6" fill="none"/>
<path d="M166.24 96.61H170.24M168.24 95.21V98.01M166.68 95.05L169.80 98.17M166.68 98.17L169.80 95.05" stroke="#00c800" stroke-width="0.6" fill="none"/>
<path d="M169.04 98.74H173.04M171.04 97.34V100.14M169.48 97.18L172.60 100.30M169.48 100.30L172.60 97.18" stroke="#00c800" stroke-width="0.6" fill="none"/>
<path d="M171.84 101.72H175.84M173.84 100.32V103.12M172.28 100.16L175.40 103.28M172.28 103.28L175.40 100.16" stroke="#00c800" stroke-width="0.6" fill="none"/>
<path d="M174.64 105.45H178.64M176.64 104.05V106.85M175.08 103.89L178.20 107.01M175.08 107.01L178.20 103.89" stroke="#00c800" stroke-width="0.6" fill="none"/>
<path d="M177.44 110.00H181.44M179.44 108.60V111.40M177.88 108.44L181.00 111.56M177.88 111.56L181.00 108.44" stroke="#00c800" stroke-width="0.6" fill="none"/>
<path d="M180.24 114.10H184.24M182.24 112.70V115.50M180.68 112.54L183.80 115.66M180.68 115.66L183.80 112.54" stroke="#00c800" stroke-width="0.6" fill="none"/>
<path d="M182.74 117.43H186.74M184.74 116.03V118.83M183.18 115.87L186.30 118.99M183.18 118.99L186.30 115.87" stroke="#00c800" stroke-width="0.6" fill="none"/>
<path d="M185.19 120.32H189.19M187.19 118.92V121.72M185.63 118.76L188.75 121.88M185.63 121.88L188.75 118.76" stroke="#00c800" stroke-width="0.6" fill="none"/>
<path d="M187.99 123.71H191.99M189.99 122.31V125.11M188.43 122.15L191.55 125.27M188.43 125.27L191.55 122.15" stroke="#00c800" stroke-width="0.6" fill="none"/>
<path d="M190.79 127.30H194.79M192.79 125.90V128.70M191.23 125.74L194.35 128.86M191.23 128.86L194.35 125.74" stroke="#00c800" stroke-width="0.6" fill="none"/>
<path d="M193.59 130.81H197.59M195.59 129.41V132.21M194.03 129.25L197.15 132.37M194.03 132.37L197.15 129.25" stroke="#00c800" stroke-width="0.6" fill="none"/>
<path d="M196.39 134.14H200.39M198.39 132.74V135.54M196.83 132.58L199.95 135.70M196.83 135.70L199.95 132.58" stroke="#00c800" stroke-width="0.6" fill="none"/>
<path d="M199.19 137.40H203.19M201.19 136.00V138.80M199.63 135.84L202.75 138.96M199.63 138.96L202.75 135.84" stroke="#00c800" stroke-width="0.6" fill="none"/>
<path d="M201.99 140.44H205.99M203.99 139.04V141.84M202.43 138.88L205.55 142.00M202.43 142.00L205.55 138.88" stroke="#00c800" stroke-width="0.6" fill="none"/>
<path d="M205.83 144.05H209.83M207.83 142.65V145.45M206.27 142.49L209.39 145.61M206.27 145.61L209.39 142.49" stroke="#00c800" stroke-width="0.6" fill="none"/>
<path d="M208.64 146.38H212.64M210.64 144.98V147.78M209.08 144.82L212.20 147.94M209.08 147.94L212.20 144.82" stroke="#00c800" stroke-width="0.6" fill="none"/>
<path d="M211.57 148.59H215.57M213.57 147.19V149.99M212.01 147.03L215.13 150.15M212.01 150.15L215.13 147.03" stroke="#00c800" stroke-width="0.6" fill="none"/>
<path d="M214.66 150.64H218.66M216.66 149.24V152.04M215.10 149.08L218.22 152.20M215.10 152.20L218.22 149.08" stroke="#00c800" stroke-width="0.6" fill="none"/>
<path d="M217.91 152.45H221.91M219.91 151.05V153.85M218.35 150.89L221.47 154.01M218.35 154.01L221.47 150.89" stroke="#00c800" stroke-width="0.6" fill="none"/>
<path d="M221.43 154.13H225.43M223.43 152.73V155.53M221.87 152.57L224.99 155.69M221.87 155.69L224.99 152.57" stroke="#00c800" stroke-width="0.6" fill="none"/>
<path d="M225.32 155.85H229.32M227.32 154.45V157.25M225.76 154.29L228.88 157.41M225.76 157.41L228.88 154.29" stroke="#00c800" stroke-width="0.6" fill="none"/>
<path d="M229.67 158.09H233.67M231.67 156.69V159.49M230.11 156.53L233.23 159.65M230.11 159.65L233.23 156.53" stroke="#00c800" stroke-width="0.6" fill="none"/>
<path d="M234.72 160.86H238.72M236.72 159.46V162.26M235.16 159.30L238.28 162.42M235.16 162.42L238.28 159.30" stroke="#00c800" stroke-width="0.6" fill="none"/>
<path d="M241.37 163.54H245.37M243.37 162.14V164.94M241.81 161.98L244.93 165.10M241.81 165.10L244.93 161.98" stroke="#00c800" stroke-width="0.6" fill="none"/>
<path d="M248.86 166.02H252.86M250.86 164.62V167.42M249.30 164.46L252.42 167.58M249.30 167.58L252.42 164.46" stroke="#00c800" stroke-width="0.6" fill="none"/>
<path d="M257.24 168.25H261.24M259.24 166.85V169.65M257.68 166.69L260.80 169.81M257.68 169.81L260.80 166.69" stroke="#00c800" stroke-width="0.6" fill="none"/>
<path d="M266.53 170.13H270.53M268.53 168.73V171.53M266.97 168.57L270.09 171.69M266.97 171.69L270.09 168.57" stroke="#00c800" stroke-width="0.6" fill="none"/>
<path d="M276.79 172.27H280.79M278.79 170.87V173.67M277.23 170.71L280.35 173.83M277.23 173.83L280.35 170.71" stroke="#00c800" stroke-width="0.6" fill="none"/>
<path d="M287.46 173.64H291.46M289.46 172.24V175.04M287.90 172.08L291.02 175.20M287.90 175.20L291.02 172.08" stroke="#00c800" stroke-width="0.6" fill="none"/>
<path d="M298.28 174.48H302.28M300.28 173.08V175.88M298.72 172.92L301.84 176.04M298.72 176.04L301.84 172.92" stroke="#00c800" stroke-width="0.6" fill="none"/>
<path d="M309.11 175.22H313.11M311.11 173.82V176.62M309.55 173.66L312.67 176.78M309.55 176.78L312.67 173.66" stroke="#00c800" stroke-width="0.6" fill="none"/>
<path d="M320.01 175.88H324.01M322.01 174.48V177.28M320.45 174.32L323.57 177.44M320.45 177.44L323.57 174.32" stroke="#00c800" stroke-width="0.6" fill="none"/>
<path d="M330.91 176.46H334.91M332.91 175.06V177.86M331.35 174.90L334.47 178.02M331.35 178.02L334.47 174.90" stroke="#00c800" stroke-width="0.6" fill="none"/>
<path d="M341.32 176.97H345.32M343.32 175.57V178.37M341.76 175.41L344.88 178.53M341.76 178.53L344.88 175.41" stroke="#00c800" stroke-width="0.6" fill="none"/>
<rect x="71.60" y="151.20" width="3.0" height="3.0" fill="#00c800"/>
<rect x="81.90" y="143.40" width="3.0" height="3.0" fill="#00c800"/>
<rect x="90.70" y="136.30" width="3.0" height="3.0" fill="#00c800"/>
<rect x="98.80" y="128.80" width="3.0" height="3.0" fill="#00c800"/>
<rect x="106.60" y="121.70" width="3.0" height="3.0" fill="#00c800"/>
<rect x="111.50" y="117.11" width="3.0" height="3.0" fill="#00c800"/>
<rect x="116.60" y="112.37" width="3.0" height="3.0" fill="#00c800"/>
<rect x="121.60" y="108.70" width="3.0" height="3.0" fill="#00c800"/>
<rect x="126.50" y="104.56" width="3.0" height="3.0" fill="#00c800"/>
<rect x="130.90" y="101.09" width="3.0" height="3.0" fill="#00c800"/>
<rect x="134.80" y="98.28" width="3.0" height="3.0" fill="#00c800"/>
<rect x="138.10" y="96.39" width="3.0" height="3.0" fill="#00c800"/>
<rect x="141.30" y="94.78" width="3.0" height="3.0" fill="#00c800"/>
<rect x="144.40" y="93.54" width="3.0" height="3.0" fill="#00c800"/>
<rect x="147.30" y="92.75" width="3.0" height="3.0" fill="#00c800"/>
<rect x="150.21" y="92.07" width="3.0" height="3.0" fill="#00c800"/>
<rect x="153.02" y="91.66" width="3.0" height="3.0" fill="#00c800"/>
<rect x="155.82" y="91.66" width="3.0" height="3.0" fill="#00c800"/>
<rect x="158.62" y="92.06" width="3.0" height="3.0" fill="#00c800"/>
<rect x="161.42" y="92.72" width="3.0" height="3.0" fill="#00c800"/>
<rect x="164.22" y="93.63" width="3.0" height="3.0" fill="#00c800"/>
<rect x="167.02" y="95.30" width="3.0" height="3.0" fill="#00c800"/>
<rect x="169.82" y="97.50" width="3.0" height="3.0" fill="#00c800"/>
<rect x="172.62" y="100.56" width="3.0" height="3.0" fill="#00c800"/>
<rect x="175.42" y="104.40" width="3.0" height="3.0" fill="#00c800"/>
<rect x="178.22" y="108.92" width="3.0" height="3.0" fill="#00c800"/>
<rect x="181.02" y="113.00" width="3.0" height="3.0" fill="#00c800"/>
<rect x="183.82" y="116.63" width="3.0" height="3.0" fill="#00c800"/>
<rect x="186.62" y="119.90" width="3.0" height="3.0" fill="#00c800"/>
<rect x="189.42" y="123.39" width="3.0" height="3.0" fill="#00c800"/>
<rect x="192.22" y="126.99" width="3.0" height="3.0" fill="#00c800"/>
<rect x="195.02" y="130.41" width="3.0" height="3.0" fill="#00c800"/>
<rect x="197.82" y="133.73" width="3.0" height="3.0" fill="#00c800"/>
<rect x="200.62" y="136.93" width="3.0" height="3.0" fill="#00c800"/>
<rect x="203.42" y="139.87" width="3.0" height="3.0" fill="#00c800"/>
<rect x="205.91" y="142.18" width="3.0" height="3.0" fill="#00c800"/>
<rect x="208.71" y="144.54" width="3.0" height="3.0" fill="#00c800"/>
<rect x="211.64" y="146.78" width="3.0" height="3.0" fill="#00c800"/>
<rect x="214.72" y="148.86" width="3.0" height="3.0" fill="#00c800"/>
<rect x="217.96" y="150.72" width="3.0" height="3.0" fill="#00c800"/>
<rect x="221.48" y="152.42" width="3.0" height="3.0" fill="#00c800"/>
<rect x="225.36" y="154.13" width="3.0" height="3.0" fill="#00c800"/>
<rect x="229.69" y="156.32" width="3.0" height="3.0" fill="#00c800"/>
<rect x="234.73" y="159.11" width="3.0" height="3.0" fill="#00c800"/>
<rect x="241.26" y="161.82" width="3.0" height="3.0" fill="#00c800"/>
<rect x="248.45" y="164.23" width="3.0" height="3.0" fill="#00c800"/>
<rect x="256.50" y="166.48" width="3.0" height="3.0" fill="#00c800"/>
<rect x="265.50" y="168.29" width="3.0" height="3.0" fill="#00c800"/>
<rect x="275.50" y="170.46" width="3.0" height="3.0" fill="#00c800"/>
<rect x="286.00" y="171.96" width="3.0" height="3.0" fill="#00c800"/>
<rect x="297.00" y="172.85" width="3.0" height="3.0" fill="#00c800"/>
<rect x="308.00" y="173.62" width="3.0" height="3.0" fill="#00c800"/>
<rect x="319.00" y="174.29" width="3.0" height="3.0" fill="#00c800"/>
<rect x="330.00" y="174.88" width="3.0" height="3.0" fill="#00c800"/>
<rect x="340.50" y="175.41" width="3.0" height="3.0" fill="#00c800"/>
<path d="M76.05 150.85L80.35 150.85L78.20 148.15Z" fill="#00c800"/>
<path d="M85.35 143.25L89.65 143.25L87.50 140.55Z" fill="#00c800"/>
<path d="M94.35 134.95L98.65 134.95L96.50 132.25Z" fill="#00c800"/>
<path d="M103.15 126.95L107.45 126.95L105.30 124.25Z" fill="#00c800"/>
<path d="M109.45 121.27L113.75 121.27L111.60 118.57Z" fill="#00c800"/>
<path d="M117.06 114.30L121.36 114.30L119.21 111.60Z" fill="#00c800"/>
<path d="M121.98 110.73L126.28 110.73L124.13 108.03Z" fill="#00c800"/>
<path d="M126.80 106.65L131.10 106.65L128.95 103.95Z" fill="#00c800"/>
<path d="M131.14 103.26L135.44 103.26L133.29 100.56Z" fill="#00c800"/>
<path d="M134.98 100.61L139.28 100.61L137.13 97.91Z" fill="#00c800"/>
<path d="M138.21 98.84L142.51 98.84L140.36 96.14Z" fill="#00c800"/>
<path d="M141.33 97.33L145.63 97.33L143.48 94.63Z" fill="#00c800"/>
<path d="M144.35 96.20L148.65 96.20L146.50 93.50Z" fill="#00c800"/>
<path d="M147.23 95.45L151.53 95.45L149.38 92.75Z" fill="#00c800"/>
<path d="M150.09 94.82L154.39 94.82L152.24 92.12Z" fill="#00c800"/>
<path d="M152.86 94.48L157.16 94.48L155.01 91.78Z" fill="#00c800"/>
<path d="M155.61 94.55L159.91 94.55L157.76 91.85Z" fill="#00c800"/>
<path d="M158.37 94.99L162.67 94.99L160.52 92.29Z" fill="#00c800"/>
<path d="M161.13 95.67L165.43 95.67L163.28 92.97Z" fill="#00c800"/>
<path d="M163.88 96.64L168.18 96.64L166.03 93.94Z" fill="#00c800"/>
<path d="M166.65 98.35L170.95 98.35L168.80 95.65Z" fill="#00c800"/>
<path d="M169.45 100.62L173.75 100.62L171.60 97.92Z" fill="#00c800"/>
<path d="M172.25 103.75L176.55 103.75L174.40 101.05Z" fill="#00c800"/>
<path d="M175.05 107.71L179.35 107.71L177.20 105.01Z" fill="#00c800"/>
<path d="M177.85 112.19L182.15 112.19L180.00 109.49Z" fill="#00c800"/>
<path d="M180.65 116.24L184.95 116.24L182.80 113.54Z" fill="#00c800"/>
<path d="M183.74 120.17L188.04 120.17L185.89 117.47Z" fill="#00c800"/>
<path d="M186.89 123.87L191.19 123.87L189.04 121.17Z" fill="#00c800"/>
<path d="M189.69 127.43L193.99 127.43L191.84 124.73Z" fill="#00c800"/>
<path d="M192.49 131.00L196.79 131.00L194.64 128.30Z" fill="#00c800"/>
<path d="M195.29 134.36L199.59 134.36L197.44 131.66Z" fill="#00c800"/>
<path d="M198.09 137.66L202.39 137.66L200.24 134.96Z" fill="#00c800"/>
<path d="M200.89 140.79L205.19 140.79L203.04 138.09Z" fill="#00c800"/>
<path d="M203.69 143.61L207.99 143.61L205.84 140.91Z" fill="#00c800"/>
<path d="M207.63 147.05L211.93 147.05L209.78 144.35Z" fill="#00c800"/>
<path d="M210.56 149.31L214.86 149.31L212.71 146.61Z" fill="#00c800"/>
<path d="M213.63 151.43L217.93 151.43L215.78 148.73Z" fill="#00c800"/>
<path d="M216.86 153.33L221.16 153.33L219.01 150.63Z" fill="#00c800"/>
<path d="M220.37 155.07L224.67 155.07L222.52 152.37Z" fill="#00c800"/>
<path d="M224.24 156.77L228.54 156.77L226.39 154.07Z" fill="#00c800"/>
<path d="M228.57 158.91L232.87 158.91L230.72 156.21Z" fill="#00c800"/>
<path d="M233.59 161.71L237.89 161.71L235.74 159.01Z" fill="#00c800"/>
<path d="M239.99 164.45L244.29 164.45L242.14 161.75Z" fill="#00c800"/>
<path d="M246.90 166.79L251.20 166.79L249.05 164.09Z" fill="#00c800"/>
<path d="M254.61 169.04L258.91 169.04L256.76 166.34Z" fill="#00c800"/>
<path d="M263.32 170.82L267.62 170.82L265.47 168.12Z" fill="#00c800"/>
<path d="M273.06 172.97L277.36 172.97L275.21 170.27Z" fill="#00c800"/>
<path d="M283.39 174.60L287.69 174.60L285.54 171.90Z" fill="#00c800"/>
<path d="M294.57 175.57L298.87 175.57L296.72 172.87Z" fill="#00c800"/>
<path d="M305.74 176.36L310.04 176.36L307.89 173.66Z" fill="#00c800"/>
<path d="M316.84 177.06L321.14 177.06L318.99 174.36Z" fill="#00c800"/>
<path d="M327.94 177.66L332.24 177.66L330.09 174.96Z" fill="#00c800"/>
<path d="M338.53 178.19L342.83 178.19L340.68 175.49Z" fill="#00c800"/>
<path d="M70.82 178.77H74.82M72.82 177.37V180.17M71.26 177.21L74.38 180.33M71.26 180.33L74.38 177.21" stroke="#a0a0a0" stroke-width="0.6" fill="none"/>
<path d="M74.73 178.67H78.73M76.73 177.27V180.07M75.17 177.11L78.29 180.23M75.17 180.23L78.29 177.11" stroke="#a0a0a0" stroke-width="0.6" fill="none"/>
<path d="M78.63 178.51H82.63M80.63 177.11V179.91M79.07 176.95L82.19 180.07M79.07 180.07L82.19 176.95" stroke="#a0a0a0" stroke-width="0.6" fill="none"/>
<path d="M82.54 178.29H86.54M84.54 176.89V179.69M82.98 176.73L86.10 179.85M82.98 179.85L86.10 176.73" stroke="#a0a0a0" stroke-width="0.6" fill="none"/>
<path d="M86.44 178.02H90.44M88.44 176.62V179.42M86.88 176.46L90.00 179.58M86.88 179.58L90.00 176.46" stroke="#a0a0a0" stroke-width="0.6" fill="none"/>
<path d="M90.35 177.65H94.35M92.35 176.25V179.05M90.79 176.09L93.91 179.21M90.79 179.21L93.91 176.09" stroke="#a0a0a0" stroke-width="0.6" fill="none"/>
<path d="M94.29 176.72H98.29M96.29 175.32V178.12M94.73 175.16L97.85 178.28M94.73 178.28L97.85 175.16" stroke="#a0a0a0" stroke-width="0.6" fill="none"/>
<path d="M98.27 175.32H102.27M100.27 173.92V176.72M98.71 173.76L101.83 176.88M98.71 176.88L101.83 173.76" stroke="#a0a0a0" stroke-width="0.6" fill="none"/>
<path d="M102.25 173.79H106.25M104.25 172.39V175.19M102.69 172.23L105.81 175.35M102.69 175.35L105.81 172.23" stroke="#a0a0a0" stroke-width="0.6" fill="none"/>
<path d="M106.23 172.11H110.23M108.23 170.71V173.51M106.67 170.55L109.79 173.67M106.67 173.67L109.79 170.55" stroke="#a0a0a0" stroke-width="0.6" fill="none"/>
<path d="M110.21 170.13H114.21M112.21 168.73V171.53M110.65 168.57L113.77 171.69M110.65 171.69L113.77 168.57" stroke="#a0a0a0" stroke-width="0.6" fill="none"/>
<path d="M114.14 167.81H118.14M116.14 166.41V169.21M114.58 166.25L117.70 169.37M114.58 169.37L117.70 166.25" stroke="#a0a0a0" stroke-width="0.6" fill="none"/>
<path d="M118.07 164.84H122.07M120.07 163.44V166.24M118.51 163.28L121.63 166.40M118.51 166.40L121.63 163.28" stroke="#a0a0a0" stroke-width="0.6" fill="none"/>
<path d="M122.00 161.20H126.00M124.00 159.80V162.60M122.44 159.64L125.56 162.76M122.44 162.76L125.56 159.64" stroke="#a0a0a0" stroke-width="0.6" fill="none"/>
<path d="M125.93 157.27H129.93M127.93 155.87V158.67M126.37 155.71L129.49 158.83M126.37 158.83L129.49 155.71" stroke="#a0a0a0" stroke-width="0.6" fill="none"/>
<path d="M129.86 153.15H133.86M131.86 151.75V154.55M130.30 151.59L133.42 154.71M130.30 154.71L133.42 151.59" stroke="#a0a0a0" stroke-width="0.6" fill="none"/>
<path d="M133.79 148.62H137.79M135.79 147.22V150.02M134.23 147.06L137.35 150.18M134.23 150.18L137.35 147.06" stroke="#a0a0a0" stroke-width="0.6" fill="none"/>
<path d="M137.73 144.25H141.73M139.73 142.85V145.65M138.17 142.69L141.29 145.81M138.17 145.81L141.29 142.69" stroke="#a0a0a0" stroke-width="0.6" fill="none"/>
<path d="M141.51 140.66H145.51M143.51 139.26V142.06M141.95 139.10L145.07 142.22M141.95 142.22L145.07 139.10" stroke="#a0a0a0" stroke-width="0.6" fill="none"/>
<path d="M144.81 137.80H148.81M146.81 136.40V139.20M145.25 136.24L148.37 139.36M145.25 139.36L148.37 136.24" stroke="#a0a0a0" stroke-width="0.6" fill="none"/>
<path d="M147.78 135.47H151.78M149.78 134.07V136.87M148.22 133.91L151.34 137.03M148.22 137.03L151.34 133.91" stroke="#a0a0a0" stroke-width="0.6" fill="none"/>
<path d="M150.66 133.49H154.66M152.66 132.09V134.89M151.10 131.93L154.22 135.05M151.10 135.05L154.22 131.93" stroke="#a0a0a0" stroke-width="0.6" fill="none"/>
<path d="M153.46 131.68H157.46M155.46 130.28V133.08M153.90 130.12L157.02 133.24M153.90 133.24L157.02 130.12" stroke="#a0a0a0" stroke-width="0.6" fill="none"/>
<path d="M156.26 130.29H160.26M158.26 128.89V131.69M156.70 128.73L159.82 131.85M156.70 131.85L159.82 128.73" stroke="#a0a0a0" stroke-width="0.6" fill="none"/>
<path d="M159.06 129.39H163.06M161.06 127.99V130.79M159.50 127.83L162.62 130.95M159.50 130.95L162.62 127.83" stroke="#a0a0a0" stroke-width="0.6" fill="none"/>
<path d="M161.86 128.68H165.86M163.86 127.28V130.08M162.30 127.12L165.42 130.24M162.30 130.24L165.42 127.12" stroke="#a0a0a0" stroke-width="0.6" fill="none"/>
<path d="M164.66 128.40H168.66M166.66 127.00V129.80M165.10 126.84L168.22 129.96M165.10 129.96L168.22 126.84" stroke="#a0a0a0" stroke-width="0.6" fill="none"/>
<path d="M167.46 128.78H171.46M169.46 127.38V130.18M167.90 127.22L171.02 130.34M167.90 130.34L171.02 127.22" stroke="#a0a0a0" stroke-width="0.6" fill="none"/>
<path d="M170.26 129.67H174.26M172.26 128.27V131.07M170.70 128.11L173.82 131.23M170.70 131.23L173.82 128.11" stroke="#a0a0a0" stroke-width="0.6" fill="none"/>
<path d="M173.06 131.39H177.06M175.06 129.99V132.79M173.50 129.83L176.62 132.95M173.50 132.95L176.62 129.83" stroke="#a0a0a0" stroke-width="0.6" fill="none"/>
<path d="M175.86 134.36H179.86M177.86 132.96V135.76M176.30 132.80L179.42 135.92M176.30 135.92L179.42 132.80" stroke="#a0a0a0" stroke-width="0.6" fill="none"/>
<path d="M178.66 137.08H182.66M180.66 135.68V138.48M179.10 135.52L182.22 138.64M179.10 138.64L182.22 135.52" stroke="#a0a0a0" stroke-width="0.6" fill="none"/>
<path d="M181.36 139.75H185.36M183.36 138.35V141.15M181.80 138.19L184.92 141.31M181.80 141.31L184.92 138.19" stroke="#a0a0a0" stroke-width="0.6" fill="none"/>
<path d="M183.80 142.04H187.80M185.80 140.64V143.44M184.24 140.48L187.36 143.60M184.24 143.60L187.36 140.48" stroke="#a0a0a0" stroke-width="0.6" fill="none"/>
<path d="M186.41 144.19H190.41M188.41 142.79V145.59M186.85 142.63L189.97 145.75M186.85 145.75L189.97 142.63" stroke="#a0a0a0" stroke-width="0.6" fill="none"/>
<path d="M189.21 146.24H193.21M191.21 144.84V147.64M189.65 144.68L192.77 147.80M189.65 147.80L192.77 144.68" stroke="#a0a0a0" stroke-width="0.6" fill="none"/>
<path d="M192.01 148.13H196.01M194.01 146.73V149.53M192.45 146.57L195.57 149.69M192.45 149.69L195.57 146.57" stroke="#a0a0a0" stroke-width="0.6" fill="none"/>
<path d="M194.81 149.91H198.81M196.81 148.51V151.31M195.25 148.35L198.37 151.47M195.25 151.47L198.37 148.35" stroke="#a0a0a0" stroke-width="0.6" fill="none"/>
<path d="M197.61 151.64H201.61M199.61 150.24V153.04M198.05 150.08L201.17 153.20M198.05 153.20L201.17 150.08" stroke="#a0a0a0" stroke-width="0.6" fill="none"/>
<path d="M200.41 153.29H204.41M202.41 151.89V154.69M200.85 151.73L203.97 154.85M200.85 154.85L203.97 151.73" stroke="#a0a0a0" stroke-width="0.6" fill="none"/>
<path d="M203.21 154.77H207.21M205.21 153.37V156.17M203.65 153.21L206.77 156.33M203.65 156.33L206.77 153.21" stroke="#a0a0a0" stroke-width="0.6" fill="none"/>
<path d="M207.13 156.48H211.13M209.13 155.08V157.88M207.57 154.92L210.69 158.04M207.57 158.04L210.69 154.92" stroke="#a0a0a0" stroke-width="0.6" fill="none"/>
<path d="M209.94 157.54H213.94M211.94 156.14V158.94M210.38 155.98L213.50 159.10M210.38 159.10L213.50 155.98" stroke="#a0a0a0" stroke-width="0.6" fill="none"/>
<path d="M212.75 158.60H216.75M214.75 157.20V160.00M213.19 157.04L216.31 160.16M213.19 160.16L216.31 157.04" stroke="#a0a0a0" stroke-width="0.6" fill="none"/>
<path d="M215.74 159.83H219.74M217.74 158.43V161.23M216.18 158.27L219.30 161.39M216.18 161.39L219.30 158.27" stroke="#a0a0a0" stroke-width="0.6" fill="none"/>
<path d="M218.98 161.25H222.98M220.98 159.85V162.65M219.42 159.69L222.54 162.81M219.42 162.81L222.54 159.69" stroke="#a0a0a0" stroke-width="0.6" fill="none"/>
<path d="M222.48 163.00H226.48M224.48 161.60V164.40M222.92 161.44L226.04 164.56M222.92 164.56L226.04 161.44" stroke="#a0a0a0" stroke-width="0.6" fill="none"/>
<path d="M226.58 164.86H230.58M228.58 163.46V166.26M227.02 163.30L230.14 166.42M227.02 166.42L230.14 163.30" stroke="#a0a0a0" stroke-width="0.6" fill="none"/>
<path d="M231.63 166.50H235.63M233.63 165.10V167.90M232.07 164.94L235.19 168.06M232.07 168.06L235.19 164.94" stroke="#a0a0a0" stroke-width="0.6" fill="none"/>
<path d="M237.13 167.96H241.13M239.13 166.56V169.36M237.57 166.40L240.69 169.52M237.57 169.52L240.69 166.40" stroke="#a0a0a0" stroke-width="0.6" fill="none"/>
<path d="M244.08 169.52H248.08M246.08 168.12V170.92M244.52 167.96L247.64 171.08M244.52 171.08L247.64 167.96" stroke="#a0a0a0" stroke-width="0.6" fill="none"/>
<path d="M251.63 171.07H255.63M253.63 169.67V172.47M252.07 169.51L255.19 172.63M252.07 172.63L255.19 169.51" stroke="#a0a0a0" stroke-width="0.6" fill="none"/>
<path d="M260.36 172.64H264.36M262.36 171.24V174.04M260.80 171.08L263.92 174.20M260.80 174.20L263.92 171.08" stroke="#a0a0a0" stroke-width="0.6" fill="none"/>
<path d="M269.93 173.91H273.93M271.93 172.51V175.31M270.37 172.35L273.49 175.47M270.37 175.47L273.49 172.35" stroke="#a0a0a0" stroke-width="0.6" fill="none"/>
<path d="M280.28 174.96H284.28M282.28 173.56V176.36M280.72 173.40L283.84 176.52M280.72 176.52L283.84 173.40" stroke="#a0a0a0" stroke-width="0.6" fill="none"/>
<path d="M290.90 175.79H294.90M292.90 174.39V177.19M291.34 174.23L294.46 177.35M291.34 177.35L294.46 174.23" stroke="#a0a0a0" stroke-width="0.6" fill="none"/>
<path d="M301.73 176.38H305.73M303.73 174.98V177.78M302.17 174.82L305.29 177.94M302.17 177.94L305.29 174.82" stroke="#a0a0a0" stroke-width="0.6" fill="none"/>
<path d="M312.57 176.83H316.57M314.57 175.43V178.23M313.01 175.27L316.13 178.39M313.01 178.39L316.13 175.27" stroke="#a0a0a0" stroke-width="0.6" fill="none"/>
<path d="M323.48 177.15H327.48M325.48 175.75V178.55M323.92 175.59L327.04 178.71M323.92 178.71L327.04 175.59" stroke="#a0a0a0" stroke-width="0.6" fill="none"/>
<path d="M334.38 177.39H338.38M336.38 175.99V178.79M334.82 175.83L337.94 178.95M334.82 178.95L337.94 175.83" stroke="#a0a0a0" stroke-width="0.6" fill="none"/>
<rect x="68.40" y="177.30" width="3.0" height="3.0" fill="#a0a0a0"/>
<rect x="72.30" y="177.25" width="3.0" height="3.0" fill="#a0a0a0"/>
<rect x="76.20" y="177.14" width="3.0" height="3.0" fill="#a0a0a0"/>
<rect x="80.10" y="176.96" width="3.0" height="3.0" fill="#a0a0a0"/>
<rect x="84.00" y="176.73" width="3.0" height="3.0" fill="#a0a0a0"/>
<rect x="87.90" y="176.44" width="3.0" height="3.0" fill="#a0a0a0"/>
<rect x="91.80" y="175.98" width="3.0" height="3.0" fill="#a0a0a0"/>
<rect x="95.70" y="174.93" width="3.0" height="3.0" fill="#a0a0a0"/>
<rect x="99.60" y="173.50" width="3.0" height="3.0" fill="#a0a0a0"/>
<rect x="103.50" y="172.00" width="3.0" height="3.0" fill="#a0a0a0"/>
<rect x="107.40" y="170.30" width="3.0" height="3.0" fill="#a0a0a0"/>
<rect x="111.30" y="168.30" width="3.0" height="3.0" fill="#a0a0a0"/>
<rect x="115.20" y="165.94" width="3.0" height="3.0" fill="#a0a0a0"/>
<rect x="119.10" y="162.88" width="3.0" height="3.0" fill="#a0a0a0"/>
<rect x="123.00" y="159.20" width="3.0" height="3.0" fill="#a0a0a0"/>
<rect x="126.90" y="155.30" width="3.0" height="3.0" fill="#a0a0a0"/>
<rect x="130.80" y="151.15" width="3.0" height="3.0" fill="#a0a0a0"/>
<rect x="134.70" y="146.64" width="3.0" height="3.0" fill="#a0a0a0"/>
<rect x="138.60" y="142.37" width="3.0" height="3.0" fill="#a0a0a0"/>
<rect x="142.34" y="138.86" width="3.0" height="3.0" fill="#a0a0a0"/>
<rect x="145.61" y="136.05" width="3.0" height="3.0" fill="#a0a0a0"/>
<rect x="148.57" y="133.76" width="3.0" height="3.0" fill="#a0a0a0"/>
<rect x="151.44" y="131.80" width="3.0" height="3.0" fill="#a0a0a0"/>
<rect x="154.24" y="130.02" width="3.0" height="3.0" fill="#a0a0a0"/>
<rect x="157.04" y="128.69" width="3.0" height="3.0" fill="#a0a0a0"/>
<rect x="159.84" y="127.81" width="3.0" height="3.0" fill="#a0a0a0"/>
<rect x="162.64" y="127.13" width="3.0" height="3.0" fill="#a0a0a0"/>
<rect x="165.44" y="126.91" width="3.0" height="3.0" fill="#a0a0a0"/>
<rect x="168.24" y="127.35" width="3.0" height="3.0" fill="#a0a0a0"/>
<rect x="171.04" y="128.28" width="3.0" height="3.0" fill="#a0a0a0"/>
<rect x="173.84" y="130.16" width="3.0" height="3.0" fill="#a0a0a0"/>
<rect x="176.64" y="133.15" width="3.0" height="3.0" fill="#a0a0a0"/>
<rect x="179.44" y="135.86" width="3.0" height="3.0" fill="#a0a0a0"/>
<rect x="182.24" y="138.62" width="3.0" height="3.0" fill="#a0a0a0"/>
<rect x="185.04" y="141.18" width="3.0" height="3.0" fill="#a0a0a0"/>
<rect x="187.84" y="143.39" width="3.0" height="3.0" fill="#a0a0a0"/>
<rect x="190.64" y="145.38" width="3.0" height="3.0" fill="#a0a0a0"/>
<rect x="193.44" y="147.22" width="3.0" height="3.0" fill="#a0a0a0"/>
<rect x="196.24" y="148.98" width="3.0" height="3.0" fill="#a0a0a0"/>
<rect x="199.04" y="150.70" width="3.0" height="3.0" fill="#a0a0a0"/>
<rect x="201.84" y="152.30" width="3.0" height="3.0" fill="#a0a0a0"/>
<rect x="204.64" y="153.72" width="3.0" height="3.0" fill="#a0a0a0"/>
<rect x="206.66" y="154.59" width="3.0" height="3.0" fill="#a0a0a0"/>
<rect x="209.46" y="155.67" width="3.0" height="3.0" fill="#a0a0a0"/>
<rect x="212.26" y="156.71" width="3.0" height="3.0" fill="#a0a0a0"/>
<rect x="215.23" y="157.91" width="3.0" height="3.0" fill="#a0a0a0"/>
<rect x="218.45" y="159.28" width="3.0" height="3.0" fill="#a0a0a0"/>
<rect x="221.94" y="160.97" width="3.0" height="3.0" fill="#a0a0a0"/>
<rect x="225.99" y="162.92" width="3.0" height="3.0" fill="#a0a0a0"/>
<rect x="230.96" y="164.65" width="3.0" height="3.0" fill="#a0a0a0"/>
<rect x="236.36" y="166.14" width="3.0" height="3.0" fill="#a0a0a0"/>
<rect x="243.15" y="167.72" width="3.0" height="3.0" fill="#a0a0a0"/>
<rect x="250.50" y="169.25" width="3.0" height="3.0" fill="#a0a0a0"/>
<rect x="259.00" y="170.82" width="3.0" height="3.0" fill="#a0a0a0"/>
<rect x="268.50" y="172.21" width="3.0" height="3.0" fill="#a0a0a0"/>
<rect x="278.80" y="173.26" width="3.0" height="3.0" fill="#a0a0a0"/>
<rect x="289.50" y="174.16" width="3.0" height="3.0" fill="#a0a0a0"/>
<rect x="300.50" y="174.80" width="3.0" height="3.0" fill="#a0a0a0"/>
<rect x="311.50" y="175.27" width="3.0" height="3.0" fill="#a0a0a0"/>
<rect x="322.50" y="175.61" width="3.0" height="3.0" fill="#a0a0a0"/>
<rect x="333.50" y="175.86" width="3.0" height="3.0" fill="#a0a0a0"/>
<path d="M68.74 180.14L73.04 180.14L70.89 177.44Z" fill="#a0a0a0"/>
<path d="M72.63 180.08L76.93 180.08L74.78 177.38Z" fill="#a0a0a0"/>
<path d="M76.52 179.95L80.82 179.95L78.67 177.25Z" fill="#a0a0a0"/>
<path d="M80.42 179.76L84.72 179.76L82.57 177.06Z" fill="#a0a0a0"/>
<path d="M84.31 179.51L88.61 179.51L86.46 176.81Z" fill="#a0a0a0"/>
<path d="M88.21 179.21L92.51 179.21L90.36 176.51Z" fill="#a0a0a0"/>
<path d="M92.10 178.63L96.40 178.63L94.25 175.93Z" fill="#a0a0a0"/>
<path d="M95.96 177.46L100.26 177.46L98.11 174.76Z" fill="#a0a0a0"/>
<path d="M99.78 176.03L104.08 176.03L101.93 173.33Z" fill="#a0a0a0"/>
<path d="M103.60 174.54L107.90 174.54L105.75 171.84Z" fill="#a0a0a0"/>
<path d="M107.42 172.83L111.72 172.83L109.57 170.13Z" fill="#a0a0a0"/>
<path d="M111.24 170.81L115.54 170.81L113.39 168.11Z" fill="#a0a0a0"/>
<path d="M115.11 168.40L119.41 168.40L117.26 165.70Z" fill="#a0a0a0"/>
<path d="M118.98 165.25L123.28 165.25L121.13 162.55Z" fill="#a0a0a0"/>
<path d="M122.85 161.55L127.15 161.55L125.00 158.85Z" fill="#a0a0a0"/>
<path d="M126.72 157.68L131.02 157.68L128.87 154.98Z" fill="#a0a0a0"/>
<path d="M130.59 153.49L134.89 153.49L132.74 150.79Z" fill="#a0a0a0"/>
<path d="M134.46 149.02L138.76 149.02L136.61 146.32Z" fill="#a0a0a0"/>
<path d="M138.32 144.84L142.62 144.84L140.47 142.14Z" fill="#a0a0a0"/>
<path d="M142.01 141.42L146.31 141.42L144.16 138.72Z" fill="#a0a0a0"/>
<path d="M145.25 138.66L149.55 138.66L147.40 135.96Z" fill="#a0a0a0"/>
<path d="M148.21 136.41L152.51 136.41L150.36 133.71Z" fill="#a0a0a0"/>
<path d="M151.07 134.47L155.37 134.47L153.22 131.77Z" fill="#a0a0a0"/>
<path d="M153.87 132.71L158.17 132.71L156.02 130.01Z" fill="#a0a0a0"/>
<path d="M156.67 131.45L160.97 131.45L158.82 128.75Z" fill="#a0a0a0"/>
<path d="M159.47 130.58L163.77 130.58L161.62 127.88Z" fill="#a0a0a0"/>
<path d="M162.27 129.94L166.57 129.94L164.42 127.24Z" fill="#a0a0a0"/>
<path d="M165.07 129.77L169.37 129.77L167.22 127.07Z" fill="#a0a0a0"/>
<path d="M167.87 130.27L172.17 130.27L170.02 127.57Z" fill="#a0a0a0"/>
<path d="M170.67 131.24L174.97 131.24L172.82 128.54Z" fill="#a0a0a0"/>
<path d="M173.47 133.29L177.77 133.29L175.62 130.59Z" fill="#a0a0a0"/>
<path d="M176.27 136.27L180.57 136.27L178.42 133.57Z" fill="#a0a0a0"/>
<path d="M179.07 138.98L183.37 138.98L181.22 136.28Z" fill="#a0a0a0"/>
<path d="M181.96 141.83L186.26 141.83L184.11 139.13Z" fill="#a0a0a0"/>
<path d="M185.12 144.65L189.42 144.65L187.27 141.95Z" fill="#a0a0a0"/>
<path d="M188.11 146.92L192.41 146.92L190.26 144.22Z" fill="#a0a0a0"/>
<path d="M190.91 148.85L195.21 148.85L193.06 146.15Z" fill="#a0a0a0"/>
<path d="M193.71 150.66L198.01 150.66L195.86 147.96Z" fill="#a0a0a0"/>
<path d="M196.51 152.41L200.81 152.41L198.66 149.71Z" fill="#a0a0a0"/>
<path d="M199.31 154.09L203.61 154.09L201.46 151.39Z" fill="#a0a0a0"/>
<path d="M202.11 155.64L206.41 155.64L204.26 152.94Z" fill="#a0a0a0"/>
<path d="M205.04 157.04L209.34 157.04L207.19 154.34Z" fill="#a0a0a0"/>
<path d="M207.82 158.16L212.12 158.16L209.97 155.46Z" fill="#a0a0a0"/>
<path d="M210.61 159.19L214.91 159.19L212.76 156.49Z" fill="#a0a0a0"/>
<path d="M213.57 160.34L217.87 160.34L215.72 157.64Z" fill="#a0a0a0"/>
<path d="M216.78 161.68L221.08 161.68L218.93 158.98Z" fill="#a0a0a0"/>
<path d="M220.25 163.29L224.55 163.29L222.40 160.59Z" fill="#a0a0a0"/>
<path d="M224.25 165.28L228.55 165.28L226.40 162.58Z" fill="#a0a0a0"/>
<path d="M229.14 167.13L233.44 167.13L231.29 164.43Z" fill="#a0a0a0"/>
<path d="M234.45 168.66L238.75 168.66L236.60 165.96Z" fill="#a0a0a0"/>
<path d="M241.08 170.26L245.38 170.26L243.23 167.56Z" fill="#a0a0a0"/>
<path d="M248.22 171.77L252.52 171.77L250.37 169.07Z" fill="#a0a0a0"/>
<path d="M256.49 173.35L260.79 173.35L258.64 170.65Z" fill="#a0a0a0"/>
<path d="M265.92 174.83L270.22 174.83L268.07 172.13Z" fill="#a0a0a0"/>
<path d="M276.17 175.91L280.47 175.91L278.32 173.21Z" fill="#a0a0a0"/>
<path d="M286.95 176.88L291.25 176.88L289.10 174.18Z" fill="#a0a0a0"/>
<path d="M298.12 177.56L302.42 177.56L300.27 174.86Z" fill="#a0a0a0"/>
<path d="M309.28 178.06L313.58 178.06L311.43 175.36Z" fill="#a0a0a0"/>
<path d="M320.37 178.42L324.67 178.42L322.52 175.72Z" fill="#a0a0a0"/>
<path d="M331.47 178.69L335.77 178.69L333.62 175.99Z" fill="#a0a0a0"/>
<path d="M77.21 178.78H81.21M79.21 177.38V180.18M77.65 177.22L80.77 180.34M77.65 180.34L80.77 177.22" stroke="#c800c8" stroke-width="0.6" fill="none"/>
<path d="M87.21 178.72H91.21M89.21 177.32V180.12M87.65 177.16L90.77 180.28M87.65 180.28L90.77 177.16" stroke="#c800c8" stroke-width="0.6" fill="none"/>
<path d="M97.29 178.61H101.29M99.29 177.21V180.01M97.73 177.05L100.85 180.17M97.73 180.17L100.85 177.05" stroke="#c800c8" stroke-width="0.6" fill="none"/>
<path d="M106.02 178.14H110.02M108.02 176.74V179.54M106.46 176.58L109.58 179.70M106.46 179.70L109.58 176.58" stroke="#c800c8" stroke-width="0.6" fill="none"/>
<path d="M112.76 177.46H116.76M114.76 176.06V178.86M113.20 175.90L116.32 179.02M113.20 179.02L116.32 175.90" stroke="#c800c8" stroke-width="0.6" fill="none"/>
<path d="M118.55 176.80H122.55M120.55 175.40V178.20M118.99 175.24L122.11 178.36M118.99 178.36L122.11 175.24" stroke="#c800c8" stroke-width="0.6" fill="none"/>
<path d="M123.89 176.03H127.89M125.89 174.63V177.43M124.33 174.47L127.45 177.59M124.33 177.59L127.45 174.47" stroke="#c800c8" stroke-width="0.6" fill="none"/>
<path d="M128.82 175.17H132.82M130.82 173.77V176.57M129.26 173.61L132.38 176.73M129.26 176.73L132.38 173.61" stroke="#c800c8" stroke-width="0.6" fill="none"/>
<path d="M133.38 174.18H137.38M135.38 172.78V175.58M133.82 172.62L136.94 175.74M133.82 175.74L136.94 172.62" stroke="#c800c8" stroke-width="0.6" fill="none"/>
<path d="M137.60 173.14H141.60M139.60 171.74V174.54M138.04 171.58L141.16 174.70M138.04 174.70L141.16 171.58" stroke="#c800c8" stroke-width="0.6" fill="none"/>
<path d="M141.40 172.07H145.40M143.40 170.67V173.47M141.84 170.51L144.96 173.63M141.84 173.63L144.96 170.51" stroke="#c800c8" stroke-width="0.6" fill="none"/>
<path d="M144.70 171.22H148.70M146.70 169.82V172.62M145.14 169.66L148.26 172.78M145.14 172.78L148.26 169.66" stroke="#c800c8" stroke-width="0.6" fill="none"/>
<path d="M147.68 170.60H151.68M149.68 169.20V172.00M148.12 169.04L151.24 172.16M148.12 172.16L151.24 169.04" stroke="#c800c8" stroke-width="0.6" fill="none"/>
<path d="M150.60 170.04H154.60M152.60 168.64V171.44M151.04 168.48L154.16 171.60M151.04 171.60L154.16 168.48" stroke="#c800c8" stroke-width="0.6" fill="none"/>
<path d="M153.44 169.50H157.44M155.44 168.10V170.90M153.88 167.94L157.00 171.06M153.88 171.06L157.00 167.94" stroke="#c800c8" stroke-width="0.6" fill="none"/>
<path d="M156.28 168.98H160.28M158.28 167.58V170.38M156.72 167.42L159.84 170.54M156.72 170.54L159.84 167.42" stroke="#c800c8" stroke-width="0.6" fill="none"/>
<path d="M159.13 168.53H163.13M161.13 167.13V169.93M159.57 166.97L162.69 170.09M159.57 170.09L162.69 166.97" stroke="#c800c8" stroke-width="0.6" fill="none"/>
<path d="M161.97 168.10H165.97M163.97 166.70V169.50M162.41 166.54L165.53 169.66M162.41 169.66L165.53 166.54" stroke="#c800c8" stroke-width="0.6" fill="none"/>
<path d="M164.81 167.90H168.81M166.81 166.50V169.30M165.25 166.34L168.37 169.46M165.25 169.46L168.37 166.34" stroke="#c800c8" stroke-width="0.6" fill="none"/>
<path d="M167.63 168.09H171.63M169.63 166.69V169.49M168.07 166.53L171.19 169.65M168.07 169.65L171.19 166.53" stroke="#c800c8" stroke-width="0.6" fill="none"/>
<path d="M170.43 168.58H174.43M172.43 167.18V169.98M170.87 167.02L173.99 170.14M170.87 170.14L173.99 167.02" stroke="#c800c8" stroke-width="0.6" fill="none"/>
<path d="M173.23 169.33H177.23M175.23 167.93V170.73M173.67 167.77L176.79 170.89M173.67 170.89L176.79 167.77" stroke="#c800c8" stroke-width="0.6" fill="none"/>
<path d="M176.03 170.92H180.03M178.03 169.52V172.32M176.47 169.36L179.59 172.48M176.47 172.48L179.59 169.36" stroke="#c800c8" stroke-width="0.6" fill="none"/>
<path d="M178.83 172.18H182.83M180.83 170.78V173.58M179.27 170.62L182.39 173.74M179.27 173.74L182.39 170.62" stroke="#c800c8" stroke-width="0.6" fill="none"/>
<path d="M181.51 173.27H185.51M183.51 171.87V174.67M181.95 171.71L185.07 174.83M181.95 174.83L185.07 171.71" stroke="#c800c8" stroke-width="0.6" fill="none"/>
<path d="M183.95 174.15H187.95M185.95 172.75V175.55M184.39 172.59L187.51 175.71M184.39 175.71L187.51 172.59" stroke="#c800c8" stroke-width="0.6" fill="none"/>
<path d="M186.58 174.94H190.58M188.58 173.54V176.34M187.02 173.38L190.14 176.50M187.02 176.50L190.14 173.38" stroke="#c800c8" stroke-width="0.6" fill="none"/>
<path d="M189.38 175.69H193.38M191.38 174.29V177.09M189.82 174.13L192.94 177.25M189.82 177.25L192.94 174.13" stroke="#c800c8" stroke-width="0.6" fill="none"/>
<path d="M192.18 176.34H196.18M194.18 174.94V177.74M192.62 174.78L195.74 177.90M192.62 177.90L195.74 174.78" stroke="#c800c8" stroke-width="0.6" fill="none"/>
<path d="M194.98 176.83H198.98M196.98 175.43V178.23M195.42 175.27L198.54 178.39M195.42 178.39L198.54 175.27" stroke="#c800c8" stroke-width="0.6" fill="none"/>
<path d="M197.78 177.20H201.78M199.78 175.80V178.60M198.22 175.64L201.34 178.76M198.22 178.76L201.34 175.64" stroke="#c800c8" stroke-width="0.6" fill="none"/>
<path d="M200.58 177.50H204.58M202.58 176.10V178.90M201.02 175.94L204.14 179.06M201.02 179.06L204.14 175.94" stroke="#c800c8" stroke-width="0.6" fill="none"/>
<path d="M203.38 177.75H207.38M205.38 176.35V179.15M203.82 176.19L206.94 179.31M203.82 179.31L206.94 176.19" stroke="#c800c8" stroke-width="0.6" fill="none"/>
<path d="M206.89 177.98H210.89M208.89 176.58V179.38M207.33 176.42L210.45 179.54M207.33 179.54L210.45 176.42" stroke="#c800c8" stroke-width="0.6" fill="none"/>
<path d="M210.47 178.17H214.47M212.47 176.77V179.57M210.91 176.61L214.03 179.73M210.91 179.73L214.03 176.61" stroke="#c800c8" stroke-width="0.6" fill="none"/>
<path d="M214.77 178.35H218.77M216.77 176.95V179.75M215.21 176.79L218.33 179.91M215.21 179.91L218.33 176.79" stroke="#c800c8" stroke-width="0.6" fill="none"/>
<path d="M219.89 178.52H223.89M221.89 177.12V179.92M220.33 176.96L223.45 180.08M220.33 180.08L223.45 176.96" stroke="#c800c8" stroke-width="0.6" fill="none"/>
<path d="M225.47 178.62H229.47M227.47 177.22V180.02M225.91 177.06L229.03 180.18M225.91 180.18L229.03 177.06" stroke="#c800c8" stroke-width="0.6" fill="none"/>
<path d="M231.51 178.67H235.51M233.51 177.27V180.07M231.95 177.11L235.07 180.23M231.95 180.23L235.07 177.11" stroke="#c800c8" stroke-width="0.6" fill="none"/>
<path d="M238.00 178.70H242.00M240.00 177.30V180.10M238.44 177.14L241.56 180.26M238.44 180.26L241.56 177.14" stroke="#c800c8" stroke-width="0.6" fill="none"/>
<path d="M245.03 178.70H249.03M247.03 177.30V180.10M245.47 177.14L248.59 180.26M245.47 180.26L248.59 177.14" stroke="#c800c8" stroke-width="0.6" fill="none"/>
<path d="M252.65 178.70H256.65M254.65 177.30V180.10M253.09 177.14L256.21 180.26M253.09 180.26L256.21 177.14" stroke="#c800c8" stroke-width="0.6" fill="none"/>
<path d="M260.87 178.70H264.87M262.87 177.30V180.10M261.31 177.14L264.43 180.26M261.31 180.26L264.43 177.14" stroke="#c800c8" stroke-width="0.6" fill="none"/>
<path d="M270.04 178.70H274.04M272.04 177.30V180.10M270.48 177.14L273.60 180.26M270.48 180.26L273.60 177.14" stroke="#c800c8" stroke-width="0.6" fill="none"/>
<path d="M280.78 178.66H284.78M282.78 177.26V180.06M281.22 177.10L284.34 180.22M281.22 180.22L284.34 177.10" stroke="#c800c8" stroke-width="0.6" fill="none"/>
<path d="M291.69 178.59H295.69M293.69 177.19V179.99M292.13 177.03L295.25 180.15M292.13 180.15L295.25 177.03" stroke="#c800c8" stroke-width="0.6" fill="none"/>
<path d="M302.52 178.42H306.52M304.52 177.02V179.82M302.96 176.86L306.08 179.98M302.96 179.98L306.08 176.86" stroke="#c800c8" stroke-width="0.6" fill="none"/>
<path d="M313.37 178.17H317.37M315.37 176.77V179.57M313.81 176.61L316.93 179.73M313.81 179.73L316.93 176.61" stroke="#c800c8" stroke-width="0.6" fill="none"/>
<path d="M324.27 177.95H328.27M326.27 176.55V179.35M324.71 176.39L327.83 179.51M324.71 179.51L327.83 176.39" stroke="#c800c8" stroke-width="0.6" fill="none"/>
<path d="M335.17 177.73H339.17M337.17 176.33V179.13M335.61 176.17L338.73 179.29M335.61 179.29L338.73 176.17" stroke="#c800c8" stroke-width="0.6" fill="none"/>
<rect x="70.47" y="177.30" width="3.0" height="3.0" fill="#c800c8"/>
<rect x="80.30" y="177.27" width="3.0" height="3.0" fill="#c800c8"/>
<rect x="89.99" y="177.20" width="3.0" height="3.0" fill="#c800c8"/>
<rect x="99.54" y="177.08" width="3.0" height="3.0" fill="#c800c8"/>
<rect x="107.83" y="176.52" width="3.0" height="3.0" fill="#c800c8"/>
<rect x="114.40" y="175.84" width="3.0" height="3.0" fill="#c800c8"/>
<rect x="120.10" y="175.16" width="3.0" height="3.0" fill="#c800c8"/>
<rect x="125.36" y="174.37" width="3.0" height="3.0" fill="#c800c8"/>
<rect x="130.22" y="173.49" width="3.0" height="3.0" fill="#c800c8"/>
<rect x="134.70" y="172.48" width="3.0" height="3.0" fill="#c800c8"/>
<rect x="138.84" y="171.43" width="3.0" height="3.0" fill="#c800c8"/>
<rect x="142.55" y="170.39" width="3.0" height="3.0" fill="#c800c8"/>
<rect x="145.79" y="169.59" width="3.0" height="3.0" fill="#c800c8"/>
<rect x="148.75" y="168.99" width="3.0" height="3.0" fill="#c800c8"/>
<rect x="151.61" y="168.45" width="3.0" height="3.0" fill="#c800c8"/>
<rect x="154.41" y="167.91" width="3.0" height="3.0" fill="#c800c8"/>
<rect x="157.21" y="167.41" width="3.0" height="3.0" fill="#c800c8"/>
<rect x="160.01" y="166.96" width="3.0" height="3.0" fill="#c800c8"/>
<rect x="162.81" y="166.56" width="3.0" height="3.0" fill="#c800c8"/>
<rect x="165.61" y="166.40" width="3.0" height="3.0" fill="#c800c8"/>
<rect x="168.41" y="166.63" width="3.0" height="3.0" fill="#c800c8"/>
<rect x="171.21" y="167.14" width="3.0" height="3.0" fill="#c800c8"/>
<rect x="174.01" y="167.96" width="3.0" height="3.0" fill="#c800c8"/>
<rect x="176.81" y="169.56" width="3.0" height="3.0" fill="#c800c8"/>
<rect x="179.61" y="170.80" width="3.0" height="3.0" fill="#c800c8"/>
<rect x="182.41" y="171.92" width="3.0" height="3.0" fill="#c800c8"/>
<rect x="185.21" y="172.89" width="3.0" height="3.0" fill="#c800c8"/>
<rect x="188.01" y="173.70" width="3.0" height="3.0" fill="#c800c8"/>
<rect x="190.81" y="174.42" width="3.0" height="3.0" fill="#c800c8"/>
<rect x="193.61" y="175.02" width="3.0" height="3.0" fill="#c800c8"/>
<rect x="196.41" y="175.46" width="3.0" height="3.0" fill="#c800c8"/>
<rect x="199.21" y="175.81" width="3.0" height="3.0" fill="#c800c8"/>
<rect x="202.01" y="176.09" width="3.0" height="3.0" fill="#c800c8"/>
<rect x="204.81" y="176.31" width="3.0" height="3.0" fill="#c800c8"/>
<rect x="206.42" y="176.42" width="3.0" height="3.0" fill="#c800c8"/>
<rect x="209.98" y="176.63" width="3.0" height="3.0" fill="#c800c8"/>
<rect x="214.26" y="176.81" width="3.0" height="3.0" fill="#c800c8"/>
<rect x="219.36" y="176.99" width="3.0" height="3.0" fill="#c800c8"/>
<rect x="224.90" y="177.10" width="3.0" height="3.0" fill="#c800c8"/>
<rect x="230.84" y="177.16" width="3.0" height="3.0" fill="#c800c8"/>
<rect x="237.22" y="177.20" width="3.0" height="3.0" fill="#c800c8"/>
<rect x="244.08" y="177.20" width="3.0" height="3.0" fill="#c800c8"/>
<rect x="251.50" y="177.20" width="3.0" height="3.0" fill="#c800c8"/>
<rect x="259.50" y="177.20" width="3.0" height="3.0" fill="#c800c8"/>
<rect x="268.60" y="177.20" width="3.0" height="3.0" fill="#c800c8"/>
<rect x="279.30" y="177.17" width="3.0" height="3.0" fill="#c800c8"/>
<rect x="290.30" y="177.11" width="3.0" height="3.0" fill="#c800c8"/>
<rect x="301.30" y="176.95" width="3.0" height="3.0" fill="#c800c8"/>
<rect x="312.30" y="176.71" width="3.0" height="3.0" fill="#c800c8"/>
<rect x="323.30" y="176.48" width="3.0" height="3.0" fill="#c800c8"/>
<rect x="334.30" y="176.26" width="3.0" height="3.0" fill="#c800c8"/>
<path d="M72.73 180.14L77.03 180.14L74.88 177.44Z" fill="#c800c8"/>
<path d="M82.24 180.10L86.54 180.10L84.39 177.40Z" fill="#c800c8"/>
<path d="M91.62 180.02L95.92 180.02L93.77 177.32Z" fill="#c800c8"/>
<path d="M100.64 179.86L104.94 179.86L102.79 177.16Z" fill="#c800c8"/>
<path d="M108.50 179.24L112.80 179.24L110.65 176.54Z" fill="#c800c8"/>
<path d="M114.89 178.57L119.19 178.57L117.04 175.87Z" fill="#c800c8"/>
<path d="M120.51 177.87L124.81 177.87L122.66 175.17Z" fill="#c800c8"/>
<path d="M125.69 177.06L129.99 177.06L127.84 174.36Z" fill="#c800c8"/>
<path d="M130.47 176.15L134.77 176.15L132.62 173.45Z" fill="#c800c8"/>
<path d="M134.88 175.14L139.18 175.14L137.03 172.44Z" fill="#c800c8"/>
<path d="M138.93 174.07L143.23 174.07L141.08 171.37Z" fill="#c800c8"/>
<path d="M142.55 173.07L146.85 173.07L144.70 170.37Z" fill="#c800c8"/>
<path d="M145.73 172.31L150.03 172.31L147.88 169.61Z" fill="#c800c8"/>
<path d="M148.67 171.73L152.97 171.73L150.82 169.03Z" fill="#c800c8"/>
<path d="M151.47 171.20L155.77 171.20L153.62 168.50Z" fill="#c800c8"/>
<path d="M154.23 170.67L158.53 170.67L156.38 167.97Z" fill="#c800c8"/>
<path d="M156.98 170.19L161.28 170.19L159.13 167.49Z" fill="#c800c8"/>
<path d="M159.74 169.75L164.04 169.75L161.89 167.05Z" fill="#c800c8"/>
<path d="M162.50 169.37L166.80 169.37L164.65 166.67Z" fill="#c800c8"/>
<path d="M165.25 169.26L169.55 169.26L167.40 166.56Z" fill="#c800c8"/>
<path d="M168.04 169.52L172.34 169.52L170.19 166.82Z" fill="#c800c8"/>
<path d="M170.84 170.05L175.14 170.05L172.99 167.35Z" fill="#c800c8"/>
<path d="M173.64 170.96L177.94 170.96L175.79 168.26Z" fill="#c800c8"/>
<path d="M176.44 172.54L180.74 172.54L178.59 169.84Z" fill="#c800c8"/>
<path d="M179.24 173.76L183.54 173.76L181.39 171.06Z" fill="#c800c8"/>
<path d="M182.16 174.92L186.46 174.92L184.31 172.22Z" fill="#c800c8"/>
<path d="M185.32 175.97L189.62 175.97L187.47 173.27Z" fill="#c800c8"/>
<path d="M188.28 176.80L192.58 176.80L190.43 174.10Z" fill="#c800c8"/>
<path d="M191.08 177.48L195.38 177.48L193.23 174.78Z" fill="#c800c8"/>
<path d="M193.88 178.03L198.18 178.03L196.03 175.33Z" fill="#c800c8"/>
<path d="M196.68 178.43L200.98 178.43L198.83 175.73Z" fill="#c800c8"/>
<path d="M199.48 178.76L203.78 178.76L201.63 176.06Z" fill="#c800c8"/>
<path d="M202.28 179.02L206.58 179.02L204.43 176.32Z" fill="#c800c8"/>
<path d="M208.35 179.42L212.65 179.42L210.50 176.72Z" fill="#c800c8"/>
<path d="M212.61 179.62L216.91 179.62L214.76 176.92Z" fill="#c800c8"/>
<path d="M217.68 179.80L221.98 179.80L219.83 177.10Z" fill="#c800c8"/>
<path d="M223.18 179.94L227.48 179.94L225.33 177.24Z" fill="#c800c8"/>
<path d="M229.02 180.00L233.32 180.00L231.17 177.30Z" fill="#c800c8"/>
<path d="M235.29 180.05L239.59 180.05L237.44 177.35Z" fill="#c800c8"/>
<path d="M241.98 180.05L246.28 180.05L244.13 177.35Z" fill="#c800c8"/>
<path d="M249.20 180.05L253.50 180.05L251.35 177.35Z" fill="#c800c8"/>
<path d="M256.98 180.05L261.28 180.05L259.13 177.35Z" fill="#c800c8"/>
<path d="M266.01 180.05L270.31 180.05L268.16 177.35Z" fill="#c800c8"/>
<path d="M276.67 180.03L280.97 180.03L278.82 177.33Z" fill="#c800c8"/>
<path d="M287.76 179.97L292.06 179.97L289.91 177.27Z" fill="#c800c8"/>
<path d="M298.93 179.84L303.23 179.84L301.08 177.14Z" fill="#c800c8"/>
<path d="M310.08 179.59L314.38 179.59L312.23 176.89Z" fill="#c800c8"/>
<path d="M321.18 179.36L325.48 179.36L323.33 176.66Z" fill="#c800c8"/>
<path d="M332.28 179.13L336.58 179.13L334.43 176.43Z" fill="#c800c8"/>
<path d="M70.12 178.80H74.12M72.12 177.40V180.20M70.56 177.24L73.68 180.36M70.56 180.36L73.68 177.24" stroke="#00c8c8" stroke-width="0.6" fill="none"/>
<path d="M80.22 178.79H84.22M82.22 177.39V180.19M80.66 177.23L83.78 180.35M80.66 180.35L83.78 177.23" stroke="#00c8c8" stroke-width="0.6" fill="none"/>
<path d="M90.17 178.77H94.17M92.17 177.37V180.17M90.61 177.21L93.73 180.33M90.61 180.33L93.73 177.21" stroke="#00c8c8" stroke-width="0.6" fill="none"/>
<path d="M100.30 178.75H104.30M102.30 177.35V180.15M100.74 177.19L103.86 180.31M100.74 180.31L103.86 177.19" stroke="#00c8c8" stroke-width="0.6" fill="none"/>
<path d="M108.38 178.71H112.38M110.38 177.31V180.11M108.82 177.15L111.94 180.27M108.82 180.27L111.94 177.15" stroke="#00c8c8" stroke-width="0.6" fill="none"/>
<path d="M114.57 178.68H118.57M116.57 177.28V180.08M115.01 177.12L118.13 180.24M115.01 180.24L118.13 177.12" stroke="#00c8c8" stroke-width="0.6" fill="none"/>
<path d="M120.22 178.65H124.22M122.22 177.25V180.05M120.66 177.09L123.78 180.21M120.66 180.21L123.78 177.09" stroke="#00c8c8" stroke-width="0.6" fill="none"/>
<path d="M125.43 178.62H129.43M127.43 177.22V180.02M125.87 177.06L128.99 180.18M125.87 180.18L128.99 177.06" stroke="#00c8c8" stroke-width="0.6" fill="none"/>
<path d="M130.25 178.56H134.25M132.25 177.16V179.96M130.69 177.00L133.81 180.12M130.69 180.12L133.81 177.00" stroke="#00c8c8" stroke-width="0.6" fill="none"/>
<path d="M134.69 178.37H138.69M136.69 176.97V179.77M135.13 176.81L138.25 179.93M135.13 179.93L138.25 176.81" stroke="#00c8c8" stroke-width="0.6" fill="none"/>
<path d="M138.82 178.16H142.82M140.82 176.76V179.56M139.26 176.60L142.38 179.72M139.26 179.72L142.38 176.60" stroke="#00c8c8" stroke-width="0.6" fill="none"/>
<path d="M142.47 178.03H146.47M144.47 176.63V179.43M142.91 176.47L146.03 179.59M142.91 179.59L146.03 176.47" stroke="#00c8c8" stroke-width="0.6" fill="none"/>
<path d="M145.62 178.01H149.62M147.62 176.61V179.41M146.06 176.45L149.18 179.57M146.06 179.57L149.18 176.45" stroke="#00c8c8" stroke-width="0.6" fill="none"/>
<path d="M148.59 178.10H152.59M150.59 176.70V179.50M149.03 176.54L152.15 179.66M149.03 179.66L152.15 176.54" stroke="#00c8c8" stroke-width="0.6" fill="none"/>
<path d="M151.46 178.28H155.46M153.46 176.88V179.68M151.90 176.72L155.02 179.84M151.90 179.84L155.02 176.72" stroke="#00c8c8" stroke-width="0.6" fill="none"/>
<path d="M154.31 178.52H158.31M156.31 177.12V179.92M154.75 176.96L157.87 180.08M154.75 180.08L157.87 176.96" stroke="#00c8c8" stroke-width="0.6" fill="none"/>
<path d="M157.15 179.07H161.15M159.15 177.67V180.47M157.59 177.51L160.71 180.63M157.59 180.63L160.71 177.51" stroke="#00c8c8" stroke-width="0.6" fill="none"/>
<path d="M159.99 179.30H163.99M161.99 177.90V180.70M160.43 177.74L163.55 180.86M160.43 180.86L163.55 177.74" stroke="#00c8c8" stroke-width="0.6" fill="none"/>
<path d="M162.84 179.51H166.84M164.84 178.11V180.91M163.28 177.95L166.40 181.07M163.28 181.07L166.40 177.95" stroke="#00c8c8" stroke-width="0.6" fill="none"/>
<path d="M165.68 180.56H169.68M167.68 179.16V181.96M166.12 179.00L169.24 182.12M166.12 182.12L169.24 179.00" stroke="#00c8c8" stroke-width="0.6" fill="none"/>
<path d="M168.48 181.50H172.48M170.48 180.10V182.90M168.92 179.94L172.04 183.06M168.92 183.06L172.04 179.94" stroke="#00c8c8" stroke-width="0.6" fill="none"/>
<path d="M171.28 183.64H175.28M173.28 182.24V185.04M171.72 182.08L174.84 185.20M171.72 185.20L174.84 182.08" stroke="#00c8c8" stroke-width="0.6" fill="none"/>
<path d="M174.08 185.98H178.08M176.08 184.58V187.38M174.52 184.42L177.64 187.54M174.52 187.54L177.64 184.42" stroke="#00c8c8" stroke-width="0.6" fill="none"/>
<path d="M176.88 188.35H180.88M178.88 186.95V189.75M177.32 186.79L180.44 189.91M177.32 189.91L180.44 186.79" stroke="#00c8c8" stroke-width="0.6" fill="none"/>
<path d="M179.68 190.54H183.68M181.68 189.14V191.94M180.12 188.98L183.24 192.10M180.12 192.10L183.24 188.98" stroke="#00c8c8" stroke-width="0.6" fill="none"/>
<path d="M182.25 192.06H186.25M184.25 190.66V193.46M182.69 190.50L185.81 193.62M182.69 193.62L185.81 190.50" stroke="#00c8c8" stroke-width="0.6" fill="none"/>
<path d="M184.69 193.04H188.69M186.69 191.64V194.44M185.13 191.48L188.25 194.60M185.13 194.60L188.25 191.48" stroke="#00c8c8" stroke-width="0.6" fill="none"/>
<path d="M187.44 193.76H191.44M189.44 192.36V195.16M187.88 192.20L191.00 195.32M187.88 195.32L191.00 192.20" stroke="#00c8c8" stroke-width="0.6" fill="none"/>
<path d="M190.24 194.32H194.24M192.24 192.92V195.72M190.68 192.76L193.80 195.88M190.68 195.88L193.80 192.76" stroke="#00c8c8" stroke-width="0.6" fill="none"/>
<path d="M193.04 194.66H197.04M195.04 193.26V196.06M193.48 193.10L196.60 196.22M193.48 196.22L196.60 193.10" stroke="#00c8c8" stroke-width="0.6" fill="none"/>
<path d="M195.84 194.70H199.84M197.84 193.30V196.10M196.28 193.14L199.40 196.26M196.28 196.26L199.40 193.14" stroke="#00c8c8" stroke-width="0.6" fill="none"/>
<path d="M198.64 194.70H202.64M200.64 193.30V196.10M199.08 193.14L202.20 196.26M199.08 196.26L202.20 193.14" stroke="#00c8c8" stroke-width="0.6" fill="none"/>
<path d="M201.44 194.64H205.44M203.44 193.24V196.04M201.88 193.08L205.00 196.20M201.88 196.20L205.00 193.08" stroke="#00c8c8" stroke-width="0.6" fill="none"/>
<path d="M208.68 193.74H212.68M210.68 192.34V195.14M209.12 192.18L212.24 195.30M209.12 195.30L212.24 192.18" stroke="#00c8c8" stroke-width="0.6" fill="none"/>
<path d="M211.83 193.18H215.83M213.83 191.78V194.58M212.27 191.62L215.39 194.74M212.27 194.74L215.39 191.62" stroke="#00c8c8" stroke-width="0.6" fill="none"/>
<path d="M215.24 192.51H219.24M217.24 191.11V193.91M215.68 190.95L218.80 194.07M215.68 194.07L218.80 190.95" stroke="#00c8c8" stroke-width="0.6" fill="none"/>
<path d="M219.04 191.64H223.04M221.04 190.24V193.04M219.48 190.08L222.60 193.20M219.48 193.20L222.60 190.08" stroke="#00c8c8" stroke-width="0.6" fill="none"/>
<path d="M223.69 190.50H227.69M225.69 189.10V191.90M224.13 188.94L227.25 192.06M224.13 192.06L227.25 188.94" stroke="#00c8c8" stroke-width="0.6" fill="none"/>
<path d="M229.04 189.27H233.04M231.04 187.87V190.67M229.48 187.71L232.60 190.83M229.48 190.83L232.60 187.71" stroke="#00c8c8" stroke-width="0.6" fill="none"/>
<path d="M234.95 188.01H238.95M236.95 186.61V189.41M235.39 186.45L238.51 189.57M235.39 189.57L238.51 186.45" stroke="#00c8c8" stroke-width="0.6" fill="none"/>
<path d="M241.64 186.62H245.64M243.64 185.22V188.02M242.08 185.06L245.20 188.18M242.08 188.18L245.20 185.06" stroke="#00c8c8" stroke-width="0.6" fill="none"/>
<path d="M248.99 185.24H252.99M250.99 183.84V186.64M249.43 183.68L252.55 186.80M249.43 186.80L252.55 183.68" stroke="#00c8c8" stroke-width="0.6" fill="none"/>
<path d="M257.17 184.16H261.17M259.17 182.76V185.56M257.61 182.60L260.73 185.72M257.61 185.72L260.73 182.60" stroke="#00c8c8" stroke-width="0.6" fill="none"/>
<path d="M266.32 183.10H270.32M268.32 181.70V184.50M266.76 181.54L269.88 184.66M266.76 184.66L269.88 181.54" stroke="#00c8c8" stroke-width="0.6" fill="none"/>
<path d="M277.47 181.99H281.47M279.47 180.59V183.39M277.91 180.43L281.03 183.55M277.91 183.55L281.03 180.43" stroke="#00c8c8" stroke-width="0.6" fill="none"/>
<path d="M288.44 181.05H292.44M290.44 179.65V182.45M288.88 179.49L292.00 182.61M288.88 182.61L292.00 179.49" stroke="#00c8c8" stroke-width="0.6" fill="none"/>
<path d="M299.27 180.38H303.27M301.27 178.98V181.78M299.71 178.82L302.83 181.94M299.71 181.94L302.83 178.82" stroke="#00c8c8" stroke-width="0.6" fill="none"/>
<path d="M310.10 179.92H314.10M312.10 178.52V181.32M310.54 178.36L313.66 181.48M310.54 181.48L313.66 178.36" stroke="#00c8c8" stroke-width="0.6" fill="none"/>
<path d="M321.00 179.36H325.00M323.00 177.96V180.76M321.44 177.80L324.56 180.92M321.44 180.92L324.56 177.80" stroke="#00c8c8" stroke-width="0.6" fill="none"/>
<path d="M331.90 178.82H335.90M333.90 177.42V180.22M332.34 177.26L335.46 180.38M332.34 180.38L335.46 177.26" stroke="#00c8c8" stroke-width="0.6" fill="none"/>
<rect x="73.43" y="177.30" width="3.0" height="3.0" fill="#00c8c8"/>
<rect x="83.22" y="177.29" width="3.0" height="3.0" fill="#00c8c8"/>
<rect x="92.86" y="177.27" width="3.0" height="3.0" fill="#00c8c8"/>
<rect x="102.37" y="177.24" width="3.0" height="3.0" fill="#00c8c8"/>
<rect x="110.10" y="177.21" width="3.0" height="3.0" fill="#00c8c8"/>
<rect x="116.18" y="177.18" width="3.0" height="3.0" fill="#00c8c8"/>
<rect x="121.75" y="177.15" width="3.0" height="3.0" fill="#00c8c8"/>
<rect x="126.88" y="177.11" width="3.0" height="3.0" fill="#00c8c8"/>
<rect x="131.62" y="177.03" width="3.0" height="3.0" fill="#00c8c8"/>
<rect x="136.00" y="176.83" width="3.0" height="3.0" fill="#00c8c8"/>
<rect x="140.04" y="176.63" width="3.0" height="3.0" fill="#00c8c8"/>
<rect x="143.59" y="176.52" width="3.0" height="3.0" fill="#00c8c8"/>
<rect x="146.71" y="176.51" width="3.0" height="3.0" fill="#00c8c8"/>
<rect x="149.63" y="176.63" width="3.0" height="3.0" fill="#00c8c8"/>
<rect x="152.46" y="176.82" width="3.0" height="3.0" fill="#00c8c8"/>
<rect x="155.26" y="177.09" width="3.0" height="3.0" fill="#00c8c8"/>
<rect x="158.06" y="177.62" width="3.0" height="3.0" fill="#00c8c8"/>
<rect x="160.86" y="177.82" width="3.0" height="3.0" fill="#00c8c8"/>
<rect x="163.66" y="178.05" width="3.0" height="3.0" fill="#00c8c8"/>
<rect x="166.46" y="179.20" width="3.0" height="3.0" fill="#00c8c8"/>
<rect x="169.26" y="180.14" width="3.0" height="3.0" fill="#00c8c8"/>
<rect x="172.06" y="182.38" width="3.0" height="3.0" fill="#00c8c8"/>
<rect x="174.86" y="184.72" width="3.0" height="3.0" fill="#00c8c8"/>
<rect x="177.66" y="187.09" width="3.0" height="3.0" fill="#00c8c8"/>
<rect x="180.46" y="189.24" width="3.0" height="3.0" fill="#00c8c8"/>
<rect x="183.26" y="190.78" width="3.0" height="3.0" fill="#00c8c8"/>
<rect x="186.06" y="191.81" width="3.0" height="3.0" fill="#00c8c8"/>
<rect x="188.86" y="192.45" width="3.0" height="3.0" fill="#00c8c8"/>
<rect x="191.66" y="192.96" width="3.0" height="3.0" fill="#00c8c8"/>
<rect x="194.46" y="193.20" width="3.0" height="3.0" fill="#00c8c8"/>
<rect x="197.26" y="193.20" width="3.0" height="3.0" fill="#00c8c8"/>
<rect x="200.06" y="193.20" width="3.0" height="3.0" fill="#00c8c8"/>
<rect x="202.86" y="193.05" width="3.0" height="3.0" fill="#00c8c8"/>
<rect x="208.20" y="192.39" width="3.0" height="3.0" fill="#00c8c8"/>
<rect x="211.34" y="191.87" width="3.0" height="3.0" fill="#00c8c8"/>
<rect x="214.73" y="191.21" width="3.0" height="3.0" fill="#00c8c8"/>
<rect x="218.52" y="190.39" width="3.0" height="3.0" fill="#00c8c8"/>
<rect x="223.14" y="189.25" width="3.0" height="3.0" fill="#00c8c8"/>
<rect x="228.40" y="188.03" width="3.0" height="3.0" fill="#00c8c8"/>
<rect x="234.22" y="186.75" width="3.0" height="3.0" fill="#00c8c8"/>
<rect x="240.78" y="185.42" width="3.0" height="3.0" fill="#00c8c8"/>
<rect x="247.94" y="183.98" width="3.0" height="3.0" fill="#00c8c8"/>
<rect x="255.90" y="182.89" width="3.0" height="3.0" fill="#00c8c8"/>
<rect x="264.90" y="181.81" width="3.0" height="3.0" fill="#00c8c8"/>
<rect x="276.00" y="180.64" width="3.0" height="3.0" fill="#00c8c8"/>
<rect x="287.00" y="179.77" width="3.0" height="3.0" fill="#00c8c8"/>
<rect x="298.00" y="178.94" width="3.0" height="3.0" fill="#00c8c8"/>
<rect x="309.00" y="178.50" width="3.0" height="3.0" fill="#00c8c8"/>
<rect x="320.00" y="177.94" width="3.0" height="3.0" fill="#00c8c8"/>
<rect x="331.00" y="177.38" width="3.0" height="3.0" fill="#00c8c8"/>
<rect x="341.00" y="177.03" width="3.0" height="3.0" fill="#00c8c8"/>
<path d="M75.59 180.15L79.89 180.15L77.74 177.45Z" fill="#00c8c8"/>
<path d="M85.06 180.13L89.36 180.13L87.21 177.43Z" fill="#00c8c8"/>
<path d="M94.41 180.11L98.71 180.11L96.56 177.41Z" fill="#00c8c8"/>
<path d="M103.29 180.08L107.59 180.08L105.44 177.38Z" fill="#00c8c8"/>
<path d="M110.66 180.05L114.96 180.05L112.81 177.35Z" fill="#00c8c8"/>
<path d="M116.65 180.02L120.95 180.02L118.80 177.32Z" fill="#00c8c8"/>
<path d="M122.12 179.99L126.42 179.99L124.27 177.29Z" fill="#00c8c8"/>
<path d="M127.18 179.95L131.48 179.95L129.33 177.25Z" fill="#00c8c8"/>
<path d="M131.85 179.85L136.15 179.85L134.00 177.15Z" fill="#00c8c8"/>
<path d="M136.15 179.64L140.45 179.64L138.30 176.94Z" fill="#00c8c8"/>
<path d="M140.10 179.45L144.40 179.45L142.25 176.75Z" fill="#00c8c8"/>
<path d="M143.57 179.36L147.87 179.36L145.72 176.66Z" fill="#00c8c8"/>
<path d="M146.64 179.38L150.94 179.38L148.79 176.68Z" fill="#00c8c8"/>
<path d="M149.53 179.51L153.83 179.51L151.68 176.81Z" fill="#00c8c8"/>
<path d="M152.31 179.71L156.61 179.71L154.46 177.01Z" fill="#00c8c8"/>
<path d="M155.07 180.02L159.37 180.02L157.22 177.32Z" fill="#00c8c8"/>
<path d="M157.82 180.51L162.12 180.51L159.97 177.81Z" fill="#00c8c8"/>
<path d="M160.58 180.69L164.88 180.69L162.73 177.99Z" fill="#00c8c8"/>
<path d="M163.34 180.95L167.64 180.95L165.49 178.25Z" fill="#00c8c8"/>
<path d="M166.09 182.18L170.39 182.18L168.24 179.48Z" fill="#00c8c8"/>
<path d="M168.89 183.16L173.19 183.16L171.04 180.46Z" fill="#00c8c8"/>
<path d="M171.69 185.47L175.99 185.47L173.84 182.77Z" fill="#00c8c8"/>
<path d="M174.49 187.81L178.79 187.81L176.64 185.11Z" fill="#00c8c8"/>
<path d="M177.29 190.17L181.59 190.17L179.44 187.47Z" fill="#00c8c8"/>
<path d="M180.09 192.28L184.39 192.28L182.24 189.58Z" fill="#00c8c8"/>
<path d="M183.12 193.85L187.42 193.85L185.27 191.15Z" fill="#00c8c8"/>
<path d="M186.28 194.89L190.58 194.89L188.43 192.19Z" fill="#00c8c8"/>
<path d="M189.14 195.49L193.44 195.49L191.29 192.79Z" fill="#00c8c8"/>
<path d="M191.94 195.93L196.24 195.93L194.09 193.23Z" fill="#00c8c8"/>
<path d="M194.74 196.05L199.04 196.05L196.89 193.35Z" fill="#00c8c8"/>
<path d="M197.54 196.05L201.84 196.05L199.69 193.35Z" fill="#00c8c8"/>
<path d="M200.34 196.04L204.64 196.04L202.49 193.34Z" fill="#00c8c8"/>
<path d="M203.14 195.80L207.44 195.80L205.29 193.10Z" fill="#00c8c8"/>
<path d="M204.05 195.69L208.35 195.69L206.20 192.99Z" fill="#00c8c8"/>
<path d="M205.58 195.51L209.88 195.51L207.73 192.81Z" fill="#00c8c8"/>
<path d="M206.57 195.38L210.87 195.38L208.72 192.68Z" fill="#00c8c8"/>
<path d="M209.70 194.89L214.00 194.89L211.85 192.19Z" fill="#00c8c8"/>
<path d="M213.08 194.26L217.38 194.26L215.23 191.56Z" fill="#00c8c8"/>
<path d="M216.84 193.48L221.14 193.48L218.99 190.78Z" fill="#00c8c8"/>
<path d="M221.44 192.35L225.74 192.35L223.59 189.65Z" fill="#00c8c8"/>
<path d="M226.62 191.14L230.92 191.14L228.77 188.44Z" fill="#00c8c8"/>
<path d="M232.34 189.86L236.64 189.86L234.49 187.16Z" fill="#00c8c8"/>
<path d="M238.77 188.56L243.07 188.56L240.92 185.86Z" fill="#00c8c8"/>
<path d="M245.73 187.09L250.03 187.09L247.88 184.39Z" fill="#00c8c8"/>
<path d="M253.48 185.96L257.78 185.96L255.63 183.26Z" fill="#00c8c8"/>
<path d="M262.33 184.88L266.63 184.88L264.48 182.18Z" fill="#00c8c8"/>
<path d="M273.38 183.67L277.68 183.67L275.53 180.97Z" fill="#00c8c8"/>
<path d="M284.41 182.81L288.71 182.81L286.56 180.11Z" fill="#00c8c8"/>
<path d="M295.58 181.85L299.88 181.85L297.73 179.15Z" fill="#00c8c8"/>
<path d="M306.75 181.42L311.05 181.42L308.90 178.72Z" fill="#00c8c8"/>
<path d="M317.85 180.88L322.15 180.88L320.00 178.18Z" fill="#00c8c8"/>
<path d="M328.95 180.30L333.25 180.30L331.10 177.60Z" fill="#00c8c8"/>
<path d="M339.04 179.91L343.34 179.91L341.19 177.21Z" fill="#00c8c8"/>
<path d="M75.82 178.90H79.82M77.82 177.50V180.30M76.26 177.34L79.38 180.46M76.26 180.46L79.38 177.34" stroke="#000000" stroke-width="0.6" fill="none"/>
<path d="M85.83 178.91H89.83M87.83 177.51V180.31M86.27 177.35L89.39 180.47M86.27 180.47L89.39 177.35" stroke="#000000" stroke-width="0.6" fill="none"/>
<path d="M95.88 178.92H99.88M97.88 177.52V180.32M96.32 177.36L99.44 180.48M96.32 180.48L99.44 177.36" stroke="#000000" stroke-width="0.6" fill="none"/>
<path d="M104.92 178.94H108.92M106.92 177.54V180.34M105.36 177.38L108.48 180.50M105.36 180.50L108.48 177.38" stroke="#000000" stroke-width="0.6" fill="none"/>
<path d="M111.92 178.95H115.92M113.92 177.55V180.35M112.36 177.39L115.48 180.51M112.36 180.51L115.48 177.39" stroke="#000000" stroke-width="0.6" fill="none"/>
<path d="M117.78 178.97H121.78M119.78 177.57V180.37M118.22 177.41L121.34 180.53M118.22 180.53L121.34 177.41" stroke="#000000" stroke-width="0.6" fill="none"/>
<path d="M123.18 178.98H127.18M125.18 177.58V180.38M123.62 177.42L126.74 180.54M123.62 180.54L126.74 177.42" stroke="#000000" stroke-width="0.6" fill="none"/>
<path d="M128.16 179.00H132.16M130.16 177.60V180.40M128.60 177.44L131.72 180.56M128.60 180.56L131.72 177.44" stroke="#000000" stroke-width="0.6" fill="none"/>
<path d="M132.77 179.03H136.77M134.77 177.63V180.43M133.21 177.47L136.33 180.59M133.21 180.59L136.33 177.47" stroke="#000000" stroke-width="0.6" fill="none"/>
<path d="M137.03 179.09H141.03M139.03 177.69V180.49M137.47 177.53L140.59 180.65M137.47 180.65L140.59 177.53" stroke="#000000" stroke-width="0.6" fill="none"/>
<path d="M140.90 179.17H144.90M142.90 177.77V180.57M141.34 177.61L144.46 180.73M141.34 180.73L144.46 177.61" stroke="#000000" stroke-width="0.6" fill="none"/>
<path d="M144.28 179.28H148.28M146.28 177.88V180.68M144.72 177.72L147.84 180.84M144.72 180.84L147.84 177.72" stroke="#000000" stroke-width="0.6" fill="none"/>
<path d="M147.27 179.67H151.27M149.27 178.27V181.07M147.71 178.11L150.83 181.23M147.71 181.23L150.83 178.11" stroke="#000000" stroke-width="0.6" fill="none"/>
<path d="M150.19 180.13H154.19M152.19 178.73V181.53M150.63 178.57L153.75 181.69M150.63 181.69L153.75 178.57" stroke="#000000" stroke-width="0.6" fill="none"/>
<path d="M153.04 180.59H157.04M155.04 179.19V181.99M153.48 179.03L156.60 182.15M153.48 182.15L156.60 179.03" stroke="#000000" stroke-width="0.6" fill="none"/>
<path d="M155.88 181.30H159.88M157.88 179.90V182.70M156.32 179.74L159.44 182.86M156.32 182.86L159.44 179.74" stroke="#000000" stroke-width="0.6" fill="none"/>
<path d="M158.73 182.28H162.73M160.73 180.88V183.68M159.17 180.72L162.29 183.84M159.17 183.84L162.29 180.72" stroke="#000000" stroke-width="0.6" fill="none"/>
<path d="M161.57 183.45H165.57M163.57 182.05V184.85M162.01 181.89L165.13 185.01M162.01 185.01L165.13 181.89" stroke="#000000" stroke-width="0.6" fill="none"/>
<path d="M164.41 184.97H168.41M166.41 183.57V186.37M164.85 183.41L167.97 186.53M164.85 186.53L167.97 183.41" stroke="#000000" stroke-width="0.6" fill="none"/>
<path d="M167.23 186.77H171.23M169.23 185.37V188.17M167.67 185.21L170.79 188.33M167.67 188.33L170.79 185.21" stroke="#000000" stroke-width="0.6" fill="none"/>
<path d="M170.03 189.34H174.03M172.03 187.94V190.74M170.47 187.78L173.59 190.90M170.47 190.90L173.59 187.78" stroke="#000000" stroke-width="0.6" fill="none"/>
<path d="M172.83 192.66H176.83M174.83 191.26V194.06M173.27 191.10L176.39 194.22M173.27 194.22L176.39 191.10" stroke="#000000" stroke-width="0.6" fill="none"/>
<path d="M175.63 195.77H179.63M177.63 194.37V197.17M176.07 194.21L179.19 197.33M176.07 197.33L179.19 194.21" stroke="#000000" stroke-width="0.6" fill="none"/>
<path d="M178.43 199.10H182.43M180.43 197.70V200.50M178.87 197.54L181.99 200.66M178.87 200.66L181.99 197.54" stroke="#000000" stroke-width="0.6" fill="none"/>
<path d="M181.17 201.55H185.17M183.17 200.15V202.95M181.61 199.99L184.73 203.11M181.61 203.11L184.73 199.99" stroke="#000000" stroke-width="0.6" fill="none"/>
<path d="M183.61 202.99H187.61M185.61 201.59V204.39M184.05 201.43L187.17 204.55M184.05 204.55L187.17 201.43" stroke="#000000" stroke-width="0.6" fill="none"/>
<path d="M186.19 204.12H190.19M188.19 202.72V205.52M186.63 202.56L189.75 205.68M186.63 205.68L189.75 202.56" stroke="#000000" stroke-width="0.6" fill="none"/>
<path d="M188.99 205.04H192.99M190.99 203.64V206.44M189.43 203.48L192.55 206.60M189.43 206.60L192.55 203.48" stroke="#000000" stroke-width="0.6" fill="none"/>
<path d="M191.79 205.79H195.79M193.79 204.39V207.19M192.23 204.23L195.35 207.35M192.23 207.35L195.35 204.23" stroke="#000000" stroke-width="0.6" fill="none"/>
<path d="M194.59 206.24H198.59M196.59 204.84V207.64M195.03 204.68L198.15 207.80M195.03 207.80L198.15 204.68" stroke="#000000" stroke-width="0.6" fill="none"/>
<path d="M197.39 206.49H201.39M199.39 205.09V207.89M197.83 204.93L200.95 208.05M197.83 208.05L200.95 204.93" stroke="#000000" stroke-width="0.6" fill="none"/>
<path d="M200.19 206.50H204.19M202.19 205.10V207.90M200.63 204.94L203.75 208.06M200.63 208.06L203.75 204.94" stroke="#000000" stroke-width="0.6" fill="none"/>
<path d="M202.99 206.42H206.99M204.99 205.02V207.82M203.43 204.86L206.55 207.98M203.43 207.98L206.55 204.86" stroke="#000000" stroke-width="0.6" fill="none"/>
<path d="M207.62 205.90H211.62M209.62 204.50V207.30M208.06 204.34L211.18 207.46M208.06 207.46L211.18 204.34" stroke="#000000" stroke-width="0.6" fill="none"/>
<path d="M210.68 205.27H214.68M212.68 203.87V206.67M211.12 203.71L214.24 206.83M211.12 206.83L214.24 203.71" stroke="#000000" stroke-width="0.6" fill="none"/>
<path d="M214.00 204.42H218.00M216.00 203.02V205.82M214.44 202.86L217.56 205.98M214.44 205.98L217.56 202.86" stroke="#000000" stroke-width="0.6" fill="none"/>
<path d="M217.58 203.32H221.58M219.58 201.92V204.72M218.02 201.76L221.14 204.88M218.02 204.88L221.14 201.76" stroke="#000000" stroke-width="0.6" fill="none"/>
<path d="M221.90 201.65H225.90M223.90 200.25V203.05M222.34 200.09L225.46 203.21M222.34 203.21L225.46 200.09" stroke="#000000" stroke-width="0.6" fill="none"/>
<path d="M227.07 199.69H231.07M229.07 198.29V201.09M227.51 198.13L230.63 201.25M227.51 201.25L230.63 198.13" stroke="#000000" stroke-width="0.6" fill="none"/>
<path d="M232.73 197.57H236.73M234.73 196.17V198.97M233.17 196.01L236.29 199.13M233.17 199.13L236.29 196.01" stroke="#000000" stroke-width="0.6" fill="none"/>
<path d="M239.11 195.41H243.11M241.11 194.01V196.81M239.55 193.85L242.67 196.97M239.55 196.97L242.67 193.85" stroke="#000000" stroke-width="0.6" fill="none"/>
<path d="M246.25 192.85H250.25M248.25 191.45V194.25M246.69 191.29L249.81 194.41M246.69 194.41L249.81 191.29" stroke="#000000" stroke-width="0.6" fill="none"/>
<path d="M253.99 190.47H257.99M255.99 189.07V191.87M254.43 188.91L257.55 192.03M254.43 192.03L257.55 188.91" stroke="#000000" stroke-width="0.6" fill="none"/>
<path d="M263.91 188.11H267.91M265.91 186.71V189.51M264.35 186.55L267.47 189.67M264.35 189.67L267.47 186.55" stroke="#000000" stroke-width="0.6" fill="none"/>
<path d="M273.65 186.21H277.65M275.65 184.81V187.61M274.09 184.65L277.21 187.77M274.09 187.77L277.21 184.65" stroke="#000000" stroke-width="0.6" fill="none"/>
<path d="M283.59 184.48H287.59M285.59 183.08V185.88M284.03 182.92L287.15 186.04M284.03 186.04L287.15 182.92" stroke="#000000" stroke-width="0.6" fill="none"/>
<path d="M294.64 182.98H298.64M296.64 181.58V184.38M295.08 181.42L298.20 184.54M295.08 184.54L298.20 181.42" stroke="#000000" stroke-width="0.6" fill="none"/>
<path d="M304.38 182.15H308.38M306.38 180.75V183.55M304.82 180.59L307.94 183.71M304.82 183.71L307.94 180.59" stroke="#000000" stroke-width="0.6" fill="none"/>
<path d="M316.24 181.07H320.24M318.24 179.67V182.47M316.68 179.51L319.80 182.63M316.68 182.63L319.80 179.51" stroke="#000000" stroke-width="0.6" fill="none"/>
<path d="M327.14 180.18H331.14M329.14 178.78V181.58M327.58 178.62L330.70 181.74M327.58 181.74L330.70 178.62" stroke="#000000" stroke-width="0.6" fill="none"/>
<path d="M339.14 179.23H343.14M341.14 177.83V180.63M339.58 177.67L342.70 180.79M339.58 180.79L342.70 177.67" stroke="#000000" stroke-width="0.6" fill="none"/>
<rect x="69.10" y="177.40" width="3.0" height="3.0" fill="#000000"/>
<rect x="78.95" y="177.40" width="3.0" height="3.0" fill="#000000"/>
<rect x="88.66" y="177.41" width="3.0" height="3.0" fill="#000000"/>
<rect x="98.23" y="177.42" width="3.0" height="3.0" fill="#000000"/>
<rect x="106.78" y="177.44" width="3.0" height="3.0" fill="#000000"/>
<rect x="113.58" y="177.45" width="3.0" height="3.0" fill="#000000"/>
<rect x="119.34" y="177.47" width="3.0" height="3.0" fill="#000000"/>
<rect x="124.66" y="177.49" width="3.0" height="3.0" fill="#000000"/>
<rect x="129.57" y="177.50" width="3.0" height="3.0" fill="#000000"/>
<rect x="134.10" y="177.54" width="3.0" height="3.0" fill="#000000"/>
<rect x="138.29" y="177.60" width="3.0" height="3.0" fill="#000000"/>
<rect x="142.07" y="177.69" width="3.0" height="3.0" fill="#000000"/>
<rect x="145.37" y="177.80" width="3.0" height="3.0" fill="#000000"/>
<rect x="148.34" y="178.27" width="3.0" height="3.0" fill="#000000"/>
<rect x="151.21" y="178.70" width="3.0" height="3.0" fill="#000000"/>
<rect x="154.01" y="179.18" width="3.0" height="3.0" fill="#000000"/>
<rect x="156.81" y="179.94" width="3.0" height="3.0" fill="#000000"/>
<rect x="159.61" y="180.93" width="3.0" height="3.0" fill="#000000"/>
<rect x="162.41" y="182.11" width="3.0" height="3.0" fill="#000000"/>
<rect x="165.21" y="183.69" width="3.0" height="3.0" fill="#000000"/>
<rect x="168.01" y="185.45" width="3.0" height="3.0" fill="#000000"/>
<rect x="170.81" y="188.17" width="3.0" height="3.0" fill="#000000"/>
<rect x="173.61" y="191.47" width="3.0" height="3.0" fill="#000000"/>
<rect x="176.41" y="194.59" width="3.0" height="3.0" fill="#000000"/>
<rect x="179.21" y="197.91" width="3.0" height="3.0" fill="#000000"/>
<rect x="182.01" y="200.29" width="3.0" height="3.0" fill="#000000"/>
<rect x="184.81" y="201.84" width="3.0" height="3.0" fill="#000000"/>
<rect x="187.61" y="202.94" width="3.0" height="3.0" fill="#000000"/>
<rect x="190.41" y="203.81" width="3.0" height="3.0" fill="#000000"/>
<rect x="193.21" y="204.48" width="3.0" height="3.0" fill="#000000"/>
<rect x="196.01" y="204.85" width="3.0" height="3.0" fill="#000000"/>
<rect x="198.81" y="205.00" width="3.0" height="3.0" fill="#000000"/>
<rect x="201.61" y="205.00" width="3.0" height="3.0" fill="#000000"/>
<rect x="204.41" y="204.84" width="3.0" height="3.0" fill="#000000"/>
<rect x="207.15" y="204.55" width="3.0" height="3.0" fill="#000000"/>
<rect x="210.19" y="203.99" width="3.0" height="3.0" fill="#000000"/>
<rect x="213.50" y="203.18" width="3.0" height="3.0" fill="#000000"/>
<rect x="217.06" y="202.17" width="3.0" height="3.0" fill="#000000"/>
<rect x="221.36" y="200.56" width="3.0" height="3.0" fill="#000000"/>
<rect x="226.47" y="198.60" width="3.0" height="3.0" fill="#000000"/>
<rect x="232.04" y="196.50" width="3.0" height="3.0" fill="#000000"/>
<rect x="238.31" y="194.36" width="3.0" height="3.0" fill="#000000"/>
<rect x="245.27" y="191.86" width="3.0" height="3.0" fill="#000000"/>
<rect x="252.80" y="189.45" width="3.0" height="3.0" fill="#000000"/>
<rect x="262.50" y="187.02" width="3.0" height="3.0" fill="#000000"/>
<rect x="272.20" y="185.07" width="3.0" height="3.0" fill="#000000"/>
<rect x="282.10" y="183.30" width="3.0" height="3.0" fill="#000000"/>
<rect x="293.30" y="181.68" width="3.0" height="3.0" fill="#000000"/>
<rect x="303.20" y="180.80" width="3.0" height="3.0" fill="#000000"/>
<rect x="315.20" y="179.70" width="3.0" height="3.0" fill="#000000"/>
<rect x="326.20" y="178.80" width="3.0" height="3.0" fill="#000000"/>
<rect x="338.30" y="177.80" width="3.0" height="3.0" fill="#000000"/>
<path d="M71.40 180.25L75.70 180.25L73.55 177.55Z" fill="#000000"/>
<path d="M80.93 180.25L85.23 180.25L83.08 177.55Z" fill="#000000"/>
<path d="M90.33 180.26L94.63 180.26L92.48 177.56Z" fill="#000000"/>
<path d="M99.42 180.28L103.72 180.28L101.57 177.58Z" fill="#000000"/>
<path d="M107.49 180.29L111.79 180.29L109.64 177.59Z" fill="#000000"/>
<path d="M114.08 180.31L118.38 180.31L116.23 177.61Z" fill="#000000"/>
<path d="M119.75 180.32L124.05 180.32L121.90 177.62Z" fill="#000000"/>
<path d="M124.99 180.34L129.29 180.34L127.14 177.64Z" fill="#000000"/>
<path d="M129.83 180.36L134.13 180.36L131.98 177.66Z" fill="#000000"/>
<path d="M134.29 180.40L138.59 180.40L136.44 177.70Z" fill="#000000"/>
<path d="M138.39 180.47L142.69 180.47L140.54 177.77Z" fill="#000000"/>
<path d="M142.08 180.56L146.38 180.56L144.23 177.86Z" fill="#000000"/>
<path d="M145.31 180.70L149.61 180.70L147.46 178.00Z" fill="#000000"/>
<path d="M148.26 181.21L152.56 181.21L150.41 178.51Z" fill="#000000"/>
<path d="M151.08 181.63L155.38 181.63L153.23 178.93Z" fill="#000000"/>
<path d="M153.84 182.13L158.14 182.13L155.99 179.43Z" fill="#000000"/>
<path d="M156.59 182.93L160.89 182.93L158.74 180.23Z" fill="#000000"/>
<path d="M159.35 183.93L163.65 183.93L161.50 181.23Z" fill="#000000"/>
<path d="M162.11 185.12L166.41 185.12L164.26 182.42Z" fill="#000000"/>
<path d="M164.86 186.75L169.16 186.75L167.01 184.05Z" fill="#000000"/>
<path d="M167.64 188.49L171.94 188.49L169.79 185.79Z" fill="#000000"/>
<path d="M170.44 191.36L174.74 191.36L172.59 188.66Z" fill="#000000"/>
<path d="M173.24 194.63L177.54 194.63L175.39 191.93Z" fill="#000000"/>
<path d="M176.04 197.75L180.34 197.75L178.19 195.05Z" fill="#000000"/>
<path d="M178.84 201.07L183.14 201.07L180.99 198.37Z" fill="#000000"/>
<path d="M181.71 203.37L186.01 203.37L183.86 200.67Z" fill="#000000"/>
<path d="M184.87 205.01L189.17 205.01L187.02 202.31Z" fill="#000000"/>
<path d="M187.89 206.09L192.19 206.09L190.04 203.39Z" fill="#000000"/>
<path d="M190.69 206.91L194.99 206.91L192.84 204.21Z" fill="#000000"/>
<path d="M193.49 207.48L197.79 207.48L195.64 204.78Z" fill="#000000"/>
<path d="M196.29 207.78L200.59 207.78L198.44 205.08Z" fill="#000000"/>
<path d="M199.09 207.85L203.39 207.85L201.24 205.15Z" fill="#000000"/>
<path d="M201.89 207.83L206.19 207.83L204.04 205.13Z" fill="#000000"/>
<path d="M204.69 207.61L208.99 207.61L206.84 204.91Z" fill="#000000"/>
<path d="M205.52 207.52L209.82 207.52L207.67 204.82Z" fill="#000000"/>
<path d="M208.56 207.05L212.86 207.05L210.71 204.35Z" fill="#000000"/>
<path d="M211.84 206.29L216.14 206.29L213.99 203.59Z" fill="#000000"/>
<path d="M215.40 205.34L219.70 205.34L217.55 202.64Z" fill="#000000"/>
<path d="M219.67 203.82L223.97 203.82L221.82 201.12Z" fill="#000000"/>
<path d="M224.72 201.86L229.02 201.86L226.87 199.16Z" fill="#000000"/>
<path d="M230.19 199.80L234.49 199.80L232.34 197.10Z" fill="#000000"/>
<path d="M236.37 197.65L240.67 197.65L238.52 194.95Z" fill="#000000"/>
<path d="M243.13 195.24L247.43 195.24L245.28 192.54Z" fill="#000000"/>
<path d="M250.46 192.81L254.76 192.81L252.61 190.11Z" fill="#000000"/>
<path d="M259.94 190.29L264.24 190.29L262.09 187.59Z" fill="#000000"/>
<path d="M269.60 188.29L273.90 188.29L271.75 185.59Z" fill="#000000"/>
<path d="M279.46 186.49L283.76 186.49L281.61 183.79Z" fill="#000000"/>
<path d="M290.81 184.75L295.11 184.75L292.96 182.05Z" fill="#000000"/>
<path d="M300.87 183.79L305.17 183.79L303.02 181.09Z" fill="#000000"/>
<path d="M313.01 182.69L317.31 182.69L315.16 179.99Z" fill="#000000"/>
<path d="M324.11 181.77L328.41 181.77L326.26 179.07Z" fill="#000000"/>
<path d="M336.31 180.73L340.61 180.73L338.46 178.03Z" fill="#000000"/>
<path d="M68.13 179.00H72.13M70.13 177.60V180.40M68.57 177.44L71.69 180.56M68.57 180.56L71.69 177.44" stroke="#c8a000" stroke-width="0.6" fill="none"/>
<path d="M71.23 179.00H75.23M73.23 177.60V180.40M71.67 177.44L74.79 180.56M71.67 180.56L74.79 177.44" stroke="#c8a000" stroke-width="0.6" fill="none"/>
<path d="M74.32 179.00H78.32M76.32 177.60V180.40M74.76 177.44L77.88 180.56M74.76 180.56L77.88 177.44" stroke="#c8a000" stroke-width="0.6" fill="none"/>
<path d="M77.42 179.00H81.42M79.42 177.60V180.40M77.86 177.44L80.98 180.56M77.86 180.56L80.98 177.44" stroke="#c8a000" stroke-width="0.6" fill="none"/>
<path d="M80.51 179.00H84.51M82.51 177.60V180.40M80.95 177.44L84.07 180.56M80.95 180.56L84.07 177.44" stroke="#c8a000" stroke-width="0.6" fill="none"/>
<path d="M83.61 179.00H87.61M85.61 177.60V180.40M84.05 177.44L87.17 180.56M84.05 180.56L87.17 177.44" stroke="#c8a000" stroke-width="0.6" fill="none"/>
<path d="M86.70 179.00H90.70M88.70 177.60V180.40M87.14 177.44L90.26 180.56M87.14 180.56L90.26 177.44" stroke="#c8a000" stroke-width="0.6" fill="none"/>
<path d="M89.79 179.00H93.79M91.79 177.60V180.40M90.23 177.44L93.35 180.56M90.23 180.56L93.35 177.44" stroke="#c8a000" stroke-width="0.6" fill="none"/>
<path d="M92.97 179.00H96.97M94.97 177.60V180.40M93.41 177.44L96.53 180.56M93.41 180.56L96.53 177.44" stroke="#c8a000" stroke-width="0.6" fill="none"/>
<path d="M96.18 179.00H100.18M98.18 177.60V180.40M96.62 177.44L99.74 180.56M96.62 180.56L99.74 177.44" stroke="#c8a000" stroke-width="0.6" fill="none"/>
<path d="M99.37 179.00H103.37M101.37 177.60V180.40M99.81 177.44L102.93 180.56M99.81 180.56L102.93 177.44" stroke="#c8a000" stroke-width="0.6" fill="none"/>
<path d="M102.54 179.00H106.54M104.54 177.60V180.40M102.98 177.44L106.10 180.56M102.98 180.56L106.10 177.44" stroke="#c8a000" stroke-width="0.6" fill="none"/>
<path d="M105.67 179.00H109.67M107.67 177.60V180.40M106.11 177.44L109.23 180.56M106.11 180.56L109.23 177.44" stroke="#c8a000" stroke-width="0.6" fill="none"/>
<path d="M108.80 179.00H112.80M110.80 177.60V180.40M109.24 177.44L112.36 180.56M109.24 180.56L112.36 177.44" stroke="#c8a000" stroke-width="0.6" fill="none"/>
<path d="M111.85 179.00H115.85M113.85 177.60V180.40M112.29 177.44L115.41 180.56M112.29 180.56L115.41 177.44" stroke="#c8a000" stroke-width="0.6" fill="none"/>
<path d="M114.89 179.00H118.89M116.89 177.60V180.40M115.33 177.44L118.45 180.56M115.33 180.56L118.45 177.44" stroke="#c8a000" stroke-width="0.6" fill="none"/>
<path d="M117.94 179.00H121.94M119.94 177.60V180.40M118.38 177.44L121.50 180.56M118.38 180.56L121.50 177.44" stroke="#c8a000" stroke-width="0.6" fill="none"/>
<path d="M120.98 179.04H124.98M122.98 177.64V180.44M121.42 177.48L124.54 180.60M121.42 180.60L124.54 177.48" stroke="#c8a000" stroke-width="0.6" fill="none"/>
<path d="M124.03 179.11H128.03M126.03 177.71V180.51M124.47 177.55L127.59 180.67M124.47 180.67L127.59 177.55" stroke="#c8a000" stroke-width="0.6" fill="none"/>
<path d="M127.08 179.20H131.08M129.08 177.80V180.60M127.52 177.64L130.64 180.76M127.52 180.76L130.64 177.64" stroke="#c8a000" stroke-width="0.6" fill="none"/>
<path d="M130.12 179.31H134.12M132.12 177.91V180.71M130.56 177.75L133.68 180.87M130.56 180.87L133.68 177.75" stroke="#c8a000" stroke-width="0.6" fill="none"/>
<path d="M133.17 179.42H137.17M135.17 178.02V180.82M133.61 177.86L136.73 180.98M133.61 180.98L136.73 177.86" stroke="#c8a000" stroke-width="0.6" fill="none"/>
<path d="M136.22 179.53H140.22M138.22 178.13V180.93M136.66 177.97L139.78 181.09M136.66 181.09L139.78 177.97" stroke="#c8a000" stroke-width="0.6" fill="none"/>
<path d="M139.30 179.65H143.30M141.30 178.25V181.05M139.74 178.09L142.86 181.21M139.74 181.21L142.86 178.09" stroke="#c8a000" stroke-width="0.6" fill="none"/>
<path d="M142.38 179.83H146.38M144.38 178.43V181.23M142.81 178.27L145.94 181.39M142.81 181.39L145.94 178.27" stroke="#c8a000" stroke-width="0.6" fill="none"/>
<path d="M145.41 180.18H149.41M147.41 178.78V181.58M145.85 178.62L148.97 181.74M145.85 181.74L148.97 178.62" stroke="#c8a000" stroke-width="0.6" fill="none"/>
<path d="M148.38 180.67H152.38M150.38 179.27V182.07M148.82 179.11L151.94 182.23M148.82 182.23L151.94 179.11" stroke="#c8a000" stroke-width="0.6" fill="none"/>
<path d="M151.27 181.32H155.27M153.27 179.92V182.72M151.71 179.76L154.83 182.88M151.71 182.88L154.83 179.76" stroke="#c8a000" stroke-width="0.6" fill="none"/>
<path d="M154.11 182.20H158.11M156.11 180.80V183.60M154.55 180.64L157.67 183.76M154.55 183.76L157.67 180.64" stroke="#c8a000" stroke-width="0.6" fill="none"/>
<path d="M156.95 183.57H160.95M158.95 182.17V184.97M157.39 182.01L160.51 185.13M157.39 185.13L160.51 182.01" stroke="#c8a000" stroke-width="0.6" fill="none"/>
<path d="M159.80 185.09H163.80M161.80 183.69V186.49M160.24 183.53L163.36 186.65M160.24 186.65L163.36 183.53" stroke="#c8a000" stroke-width="0.6" fill="none"/>
<path d="M162.64 186.71H166.64M164.64 185.31V188.11M163.08 185.15L166.20 188.27M163.08 188.27L166.20 185.15" stroke="#c8a000" stroke-width="0.6" fill="none"/>
<path d="M165.49 189.10H169.49M167.49 187.70V190.50M165.93 187.54L169.05 190.66M165.93 190.66L169.05 187.54" stroke="#c8a000" stroke-width="0.6" fill="none"/>
<path d="M168.29 191.26H172.29M170.29 189.86V192.66M168.73 189.70L171.85 192.82M168.73 192.82L171.85 189.70" stroke="#c8a000" stroke-width="0.6" fill="none"/>
<path d="M171.09 194.21H175.09M173.09 192.81V195.61M171.53 192.65L174.65 195.77M171.53 195.77L174.65 192.65" stroke="#c8a000" stroke-width="0.6" fill="none"/>
<path d="M173.89 197.65H177.89M175.89 196.25V199.05M174.33 196.09L177.45 199.21M174.33 199.21L177.45 196.09" stroke="#c8a000" stroke-width="0.6" fill="none"/>
<path d="M176.69 201.34H180.69M178.69 199.94V202.74M177.13 199.78L180.25 202.90M177.13 202.90L180.25 199.78" stroke="#c8a000" stroke-width="0.6" fill="none"/>
<path d="M179.49 204.76H183.49M181.49 203.36V206.16M179.93 203.20L183.05 206.32M179.93 206.32L183.05 203.20" stroke="#c8a000" stroke-width="0.6" fill="none"/>
<path d="M182.09 207.62H186.09M184.09 206.22V209.02M182.53 206.06L185.65 209.18M182.53 209.18L185.65 206.06" stroke="#c8a000" stroke-width="0.6" fill="none"/>
<path d="M184.53 209.65H188.53M186.53 208.25V211.05M184.97 208.09L188.09 211.21M184.97 211.21L188.09 208.09" stroke="#c8a000" stroke-width="0.6" fill="none"/>
<path d="M187.24 211.19H191.24M189.24 209.79V212.59M187.68 209.63L190.80 212.75M187.68 212.75L190.80 209.63" stroke="#c8a000" stroke-width="0.6" fill="none"/>
<path d="M190.04 212.32H194.04M192.04 210.92V213.72M190.48 210.76L193.60 213.88M190.48 213.88L193.60 210.76" stroke="#c8a000" stroke-width="0.6" fill="none"/>
<path d="M192.84 213.34H196.84M194.84 211.94V214.74M193.28 211.78L196.40 214.90M193.28 214.90L196.40 211.78" stroke="#c8a000" stroke-width="0.6" fill="none"/>
<path d="M195.64 213.99H199.64M197.64 212.59V215.39M196.08 212.43L199.20 215.55M196.08 215.55L199.20 212.43" stroke="#c8a000" stroke-width="0.6" fill="none"/>
<path d="M198.44 214.32H202.44M200.44 212.92V215.72M198.88 212.76L202.00 215.88M198.88 215.88L202.00 212.76" stroke="#c8a000" stroke-width="0.6" fill="none"/>
<path d="M201.24 214.40H205.24M203.24 213.00V215.80M201.68 212.84L204.80 215.96M201.68 215.96L204.80 212.84" stroke="#c8a000" stroke-width="0.6" fill="none"/>
<path d="M204.04 214.23H208.04M206.04 212.83V215.63M204.48 212.67L207.60 215.79M204.48 215.79L207.60 212.67" stroke="#c8a000" stroke-width="0.6" fill="none"/>
<path d="M208.65 213.61H212.65M210.65 212.21V215.01M209.09 212.05L212.21 215.17M209.09 215.17L212.21 212.05" stroke="#c8a000" stroke-width="0.6" fill="none"/>
<path d="M211.46 212.98H215.46M213.46 211.58V214.38M211.90 211.42L215.02 214.54M211.90 214.54L215.02 211.42" stroke="#c8a000" stroke-width="0.6" fill="none"/>
<path d="M214.27 212.24H218.27M216.27 210.84V213.64M214.71 210.68L217.83 213.80M214.71 213.80L217.83 210.68" stroke="#c8a000" stroke-width="0.6" fill="none"/>
<path d="M217.09 211.39H221.09M219.09 209.99V212.79M217.53 209.83L220.65 212.95M217.53 212.95L220.65 209.83" stroke="#c8a000" stroke-width="0.6" fill="none"/>
<path d="M220.10 210.27H224.10M222.10 208.87V211.67M220.54 208.71L223.66 211.83M220.54 211.83L223.66 208.71" stroke="#c8a000" stroke-width="0.6" fill="none"/>
<path d="M223.37 208.98H227.37M225.37 207.58V210.38M223.81 207.42L226.93 210.54M223.81 210.54L226.93 207.42" stroke="#c8a000" stroke-width="0.6" fill="none"/>
<path d="M226.93 207.65H230.93M228.93 206.25V209.05M227.37 206.09L230.49 209.21M227.37 209.21L230.49 206.09" stroke="#c8a000" stroke-width="0.6" fill="none"/>
<path d="M231.14 206.06H235.14M233.14 204.66V207.46M231.58 204.50L234.70 207.62M231.58 207.62L234.70 204.50" stroke="#c8a000" stroke-width="0.6" fill="none"/>
<path d="M236.26 203.84H240.26M238.26 202.44V205.24M236.70 202.28L239.82 205.40M236.70 205.40L239.82 202.28" stroke="#c8a000" stroke-width="0.6" fill="none"/>
<path d="M243.13 200.34H247.13M245.13 198.94V201.74M243.57 198.78L246.69 201.90M243.57 201.90L246.69 198.78" stroke="#c8a000" stroke-width="0.6" fill="none"/>
<path d="M250.60 196.98H254.60M252.60 195.58V198.38M251.04 195.42L254.16 198.54M251.04 198.54L254.16 195.42" stroke="#c8a000" stroke-width="0.6" fill="none"/>
<path d="M258.51 194.24H262.51M260.51 192.84V195.64M258.95 192.68L262.07 195.80M258.95 195.80L262.07 192.68" stroke="#c8a000" stroke-width="0.6" fill="none"/>
<path d="M267.32 191.79H271.32M269.32 190.39V193.19M267.76 190.23L270.88 193.35M267.76 193.35L270.88 190.23" stroke="#c8a000" stroke-width="0.6" fill="none"/>
<path d="M278.27 189.19H282.27M280.27 187.79V190.59M278.71 187.63L281.83 190.75M278.71 190.75L281.83 187.63" stroke="#c8a000" stroke-width="0.6" fill="none"/>
<path d="M289.23 187.14H293.23M291.23 185.74V188.54M289.67 185.58L292.79 188.70M289.67 188.70L292.79 185.58" stroke="#c8a000" stroke-width="0.6" fill="none"/>
<path d="M298.97 185.43H302.97M300.97 184.03V186.83M299.41 183.87L302.53 186.99M299.41 186.99L302.53 183.87" stroke="#c8a000" stroke-width="0.6" fill="none"/>
<path d="M309.80 184.01H313.80M311.80 182.61V185.41M310.24 182.45L313.36 185.57M310.24 185.57L313.36 182.45" stroke="#c8a000" stroke-width="0.6" fill="none"/>
<path d="M320.60 182.87H324.60M322.60 181.47V184.27M321.04 181.31L324.16 184.43M321.04 184.43L324.16 181.31" stroke="#c8a000" stroke-width="0.6" fill="none"/>
<path d="M331.50 182.09H335.50M333.50 180.69V183.49M331.94 180.53L335.06 183.65M331.94 183.65L335.06 180.53" stroke="#c8a000" stroke-width="0.6" fill="none"/>
<path d="M341.12 181.35H345.12M343.12 179.95V182.75M341.56 179.79L344.68 182.91M341.56 182.91L344.68 179.79" stroke="#c8a000" stroke-width="0.6" fill="none"/>
<rect x="68.50" y="177.50" width="3.0" height="3.0" fill="#c8a000"/>
<rect x="71.50" y="177.50" width="3.0" height="3.0" fill="#c8a000"/>
<rect x="74.50" y="177.50" width="3.0" height="3.0" fill="#c8a000"/>
<rect x="77.50" y="177.50" width="3.0" height="3.0" fill="#c8a000"/>
<rect x="80.50" y="177.50" width="3.0" height="3.0" fill="#c8a000"/>
<rect x="83.50" y="177.50" width="3.0" height="3.0" fill="#c8a000"/>
<rect x="86.50" y="177.50" width="3.0" height="3.0" fill="#c8a000"/>
<rect x="89.50" y="177.50" width="3.0" height="3.0" fill="#c8a000"/>
<rect x="92.50" y="177.50" width="3.0" height="3.0" fill="#c8a000"/>
<rect x="95.50" y="177.50" width="3.0" height="3.0" fill="#c8a000"/>
<rect x="98.50" y="177.50" width="3.0" height="3.0" fill="#c8a000"/>
<rect x="101.50" y="177.50" width="3.0" height="3.0" fill="#c8a000"/>
<rect x="104.50" y="177.50" width="3.0" height="3.0" fill="#c8a000"/>
<rect x="107.50" y="177.50" width="3.0" height="3.0" fill="#c8a000"/>
<rect x="110.50" y="177.50" width="3.0" height="3.0" fill="#c8a000"/>
<rect x="113.50" y="177.50" width="3.0" height="3.0" fill="#c8a000"/>
<rect x="116.50" y="177.50" width="3.0" height="3.0" fill="#c8a000"/>
<rect x="119.50" y="177.51" width="3.0" height="3.0" fill="#c8a000"/>
<rect x="122.50" y="177.56" width="3.0" height="3.0" fill="#c8a000"/>
<rect x="125.50" y="177.64" width="3.0" height="3.0" fill="#c8a000"/>
<rect x="128.50" y="177.73" width="3.0" height="3.0" fill="#c8a000"/>
<rect x="131.50" y="177.84" width="3.0" height="3.0" fill="#c8a000"/>
<rect x="134.50" y="177.95" width="3.0" height="3.0" fill="#c8a000"/>
<rect x="137.50" y="178.06" width="3.0" height="3.0" fill="#c8a000"/>
<rect x="140.50" y="178.18" width="3.0" height="3.0" fill="#c8a000"/>
<rect x="143.50" y="178.38" width="3.0" height="3.0" fill="#c8a000"/>
<rect x="146.50" y="178.77" width="3.0" height="3.0" fill="#c8a000"/>
<rect x="149.43" y="179.28" width="3.0" height="3.0" fill="#c8a000"/>
<rect x="152.27" y="179.96" width="3.0" height="3.0" fill="#c8a000"/>
<rect x="155.07" y="180.88" width="3.0" height="3.0" fill="#c8a000"/>
<rect x="157.87" y="182.30" width="3.0" height="3.0" fill="#c8a000"/>
<rect x="160.67" y="183.78" width="3.0" height="3.0" fill="#c8a000"/>
<rect x="163.47" y="185.43" width="3.0" height="3.0" fill="#c8a000"/>
<rect x="166.27" y="187.84" width="3.0" height="3.0" fill="#c8a000"/>
<rect x="169.07" y="190.02" width="3.0" height="3.0" fill="#c8a000"/>
<rect x="171.87" y="193.04" width="3.0" height="3.0" fill="#c8a000"/>
<rect x="174.67" y="196.52" width="3.0" height="3.0" fill="#c8a000"/>
<rect x="177.47" y="200.20" width="3.0" height="3.0" fill="#c8a000"/>
<rect x="180.27" y="203.58" width="3.0" height="3.0" fill="#c8a000"/>
<rect x="183.07" y="206.56" width="3.0" height="3.0" fill="#c8a000"/>
<rect x="185.87" y="208.73" width="3.0" height="3.0" fill="#c8a000"/>
<rect x="188.67" y="210.07" width="3.0" height="3.0" fill="#c8a000"/>
<rect x="191.47" y="211.19" width="3.0" height="3.0" fill="#c8a000"/>
<rect x="194.27" y="212.10" width="3.0" height="3.0" fill="#c8a000"/>
<rect x="197.07" y="212.65" width="3.0" height="3.0" fill="#c8a000"/>
<rect x="199.87" y="212.87" width="3.0" height="3.0" fill="#c8a000"/>
<rect x="202.67" y="212.87" width="3.0" height="3.0" fill="#c8a000"/>
<rect x="205.47" y="212.64" width="3.0" height="3.0" fill="#c8a000"/>
<rect x="208.17" y="212.29" width="3.0" height="3.0" fill="#c8a000"/>
<rect x="210.97" y="211.72" width="3.0" height="3.0" fill="#c8a000"/>
<rect x="213.77" y="211.01" width="3.0" height="3.0" fill="#c8a000"/>
<rect x="216.57" y="210.23" width="3.0" height="3.0" fill="#c8a000"/>
<rect x="219.57" y="209.17" width="3.0" height="3.0" fill="#c8a000"/>
<rect x="222.82" y="207.89" width="3.0" height="3.0" fill="#c8a000"/>
<rect x="226.34" y="206.56" width="3.0" height="3.0" fill="#c8a000"/>
<rect x="230.47" y="205.02" width="3.0" height="3.0" fill="#c8a000"/>
<rect x="235.51" y="202.93" width="3.0" height="3.0" fill="#c8a000"/>
<rect x="242.23" y="199.58" width="3.0" height="3.0" fill="#c8a000"/>
<rect x="249.50" y="196.13" width="3.0" height="3.0" fill="#c8a000"/>
<rect x="257.20" y="193.30" width="3.0" height="3.0" fill="#c8a000"/>
<rect x="265.90" y="190.80" width="3.0" height="3.0" fill="#c8a000"/>
<rect x="276.80" y="188.10" width="3.0" height="3.0" fill="#c8a000"/>
<rect x="287.80" y="186.00" width="3.0" height="3.0" fill="#c8a000"/>
<rect x="297.70" y="184.20" width="3.0" height="3.0" fill="#c8a000"/>
<rect x="308.70" y="182.70" width="3.0" height="3.0" fill="#c8a000"/>
<rect x="319.60" y="181.50" width="3.0" height="3.0" fill="#c8a000"/>
<rect x="330.60" y="180.70" width="3.0" height="3.0" fill="#c8a000"/>
<rect x="340.30" y="179.94" width="3.0" height="3.0" fill="#c8a000"/>
<path d="M67.92 180.35L72.22 180.35L70.07 177.65Z" fill="#c8a000"/>
<path d="M70.82 180.35L75.12 180.35L72.97 177.65Z" fill="#c8a000"/>
<path d="M73.72 180.35L78.02 180.35L75.87 177.65Z" fill="#c8a000"/>
<path d="M76.62 180.35L80.92 180.35L78.77 177.65Z" fill="#c8a000"/>
<path d="M79.53 180.35L83.83 180.35L81.68 177.65Z" fill="#c8a000"/>
<path d="M82.43 180.35L86.73 180.35L84.58 177.65Z" fill="#c8a000"/>
<path d="M85.34 180.35L89.64 180.35L87.49 177.65Z" fill="#c8a000"/>
<path d="M88.24 180.35L92.54 180.35L90.39 177.65Z" fill="#c8a000"/>
<path d="M91.15 180.35L95.45 180.35L93.30 177.65Z" fill="#c8a000"/>
<path d="M94.06 180.35L98.36 180.35L96.21 177.65Z" fill="#c8a000"/>
<path d="M96.88 180.35L101.18 180.35L99.03 177.65Z" fill="#c8a000"/>
<path d="M99.67 180.35L103.97 180.35L101.82 177.65Z" fill="#c8a000"/>
<path d="M102.48 180.35L106.78 180.35L104.63 177.65Z" fill="#c8a000"/>
<path d="M105.31 180.35L109.61 180.35L107.46 177.65Z" fill="#c8a000"/>
<path d="M108.18 180.35L112.48 180.35L110.33 177.65Z" fill="#c8a000"/>
<path d="M111.05 180.35L115.35 180.35L113.20 177.65Z" fill="#c8a000"/>
<path d="M114.00 180.35L118.30 180.35L116.15 177.65Z" fill="#c8a000"/>
<path d="M116.96 180.35L121.26 180.35L119.11 177.65Z" fill="#c8a000"/>
<path d="M119.91 180.38L124.21 180.38L122.06 177.68Z" fill="#c8a000"/>
<path d="M122.87 180.43L127.17 180.43L125.02 177.73Z" fill="#c8a000"/>
<path d="M125.82 180.52L130.12 180.52L127.97 177.82Z" fill="#c8a000"/>
<path d="M128.77 180.61L133.07 180.61L130.92 177.91Z" fill="#c8a000"/>
<path d="M131.73 180.72L136.03 180.72L133.88 178.02Z" fill="#c8a000"/>
<path d="M134.68 180.83L138.98 180.83L136.83 178.13Z" fill="#c8a000"/>
<path d="M137.62 180.94L141.93 180.94L139.78 178.24Z" fill="#c8a000"/>
<path d="M140.55 181.07L144.85 181.07L142.70 178.37Z" fill="#c8a000"/>
<path d="M143.47 181.30L147.78 181.30L145.62 178.60Z" fill="#c8a000"/>
<path d="M146.44 181.71L150.74 181.71L148.59 179.01Z" fill="#c8a000"/>
<path d="M149.34 182.24L153.64 182.24L151.49 179.54Z" fill="#c8a000"/>
<path d="M152.12 182.96L156.42 182.96L154.27 180.26Z" fill="#c8a000"/>
<path d="M154.88 183.93L159.18 183.93L157.03 181.23Z" fill="#c8a000"/>
<path d="M157.63 185.38L161.93 185.38L159.78 182.68Z" fill="#c8a000"/>
<path d="M160.39 186.83L164.69 186.83L162.54 184.13Z" fill="#c8a000"/>
<path d="M163.15 188.50L167.45 188.50L165.30 185.80Z" fill="#c8a000"/>
<path d="M165.90 190.90L170.20 190.90L168.05 188.20Z" fill="#c8a000"/>
<path d="M168.70 193.14L173.00 193.14L170.85 190.44Z" fill="#c8a000"/>
<path d="M171.50 196.22L175.80 196.22L173.65 193.52Z" fill="#c8a000"/>
<path d="M174.30 199.75L178.60 199.75L176.45 197.05Z" fill="#c8a000"/>
<path d="M177.10 203.40L181.40 203.40L179.25 200.70Z" fill="#c8a000"/>
<path d="M179.90 206.75L184.20 206.75L182.05 204.05Z" fill="#c8a000"/>
<path d="M182.90 209.83L187.20 209.83L185.05 207.13Z" fill="#c8a000"/>
<path d="M186.06 212.06L190.36 212.06L188.21 209.36Z" fill="#c8a000"/>
<path d="M188.94 213.29L193.24 213.29L191.09 210.59Z" fill="#c8a000"/>
<path d="M191.74 214.38L196.04 214.38L193.89 211.68Z" fill="#c8a000"/>
<path d="M194.54 215.15L198.84 215.15L196.69 212.45Z" fill="#c8a000"/>
<path d="M197.34 215.61L201.64 215.61L199.49 212.91Z" fill="#c8a000"/>
<path d="M200.14 215.74L204.44 215.74L202.29 213.04Z" fill="#c8a000"/>
<path d="M202.94 215.66L207.24 215.66L205.09 212.96Z" fill="#c8a000"/>
<path d="M205.64 215.41L209.94 215.41L207.79 212.71Z" fill="#c8a000"/>
<path d="M206.54 215.29L210.84 215.29L208.69 212.59Z" fill="#c8a000"/>
<path d="M209.33 214.79L213.63 214.79L211.48 212.09Z" fill="#c8a000"/>
<path d="M212.12 214.12L216.42 214.12L214.27 211.42Z" fill="#c8a000"/>
<path d="M214.90 213.38L219.20 213.38L217.05 210.68Z" fill="#c8a000"/>
<path d="M217.89 212.40L222.19 212.40L220.04 209.70Z" fill="#c8a000"/>
<path d="M221.12 211.15L225.42 211.15L223.27 208.45Z" fill="#c8a000"/>
<path d="M224.59 209.81L228.89 209.81L226.74 207.11Z" fill="#c8a000"/>
<path d="M228.66 208.31L232.96 208.31L230.81 205.61Z" fill="#c8a000"/>
<path d="M233.61 206.34L237.91 206.34L235.76 203.64Z" fill="#c8a000"/>
<path d="M240.17 203.17L244.47 203.17L242.32 200.47Z" fill="#c8a000"/>
<path d="M247.25 199.65L251.55 199.65L249.40 196.95Z" fill="#c8a000"/>
<path d="M254.74 196.76L259.04 196.76L256.89 194.06Z" fill="#c8a000"/>
<path d="M263.33 194.17L267.63 194.17L265.48 191.47Z" fill="#c8a000"/>
<path d="M274.18 191.39L278.48 191.39L276.33 188.69Z" fill="#c8a000"/>
<path d="M285.22 189.21L289.52 189.21L287.37 186.51Z" fill="#c8a000"/>
<path d="M295.28 187.34L299.58 187.34L297.43 184.64Z" fill="#c8a000"/>
<path d="M306.45 185.75L310.75 185.75L308.60 183.05Z" fill="#c8a000"/>
<path d="M317.45 184.49L321.75 184.49L319.60 181.79Z" fill="#c8a000"/>
<path d="M328.55 183.65L332.85 183.65L330.70 180.95Z" fill="#c8a000"/>
<path d="M338.33 182.88L342.63 182.88L340.48 180.18Z" fill="#c8a000"/>
<rect x="69.5" y="177.9" width="2.2" height="2.6" fill="#000"/>
<rect x="80.9" y="177.9" width="2.2" height="2.6" fill="#000"/>
<rect x="90.60000000000001" y="177.9" width="2.2" height="2.6" fill="#000"/>
<rect x="99.4" y="177.9" width="2.2" height="2.6" fill="#000"/>
<rect x="108.2" y="177.9" width="2.2" height="2.6" fill="#000"/>
</g>
<rect x="69.3" y="18.4" width="274.70" height="205.00" fill="none" stroke="#484848" stroke-width="1.25"/>
<path d="M122.13 223.4v-3.2M122.13 18.4v3.2M174.95 223.4v-3.2M174.95 18.4v3.2M227.78 223.4v-3.2M227.78 18.4v3.2M280.61 223.4v-3.2M280.61 18.4v3.2M333.43 223.4v-3.2M333.43 18.4v3.2M69.3 178.80h3.2M344.0 178.80h-3.2M69.3 134.20h3.2M344.0 134.20h-3.2M69.3 89.60h3.2M344.0 89.60h-3.2M69.3 45.00h3.2M344.0 45.00h-3.2" stroke="#484848" stroke-width="0.9" fill="none"/>
<g font-family="Liberation Sans, sans-serif" font-size="14.3px" fill="#000">
<text x="69.30" y="243" text-anchor="middle" xml:space="preserve">-20</text>
<text x="111.80" y="243">-</text>
<path d="M120.15 243.00L120.15 234.36L117.93 235.95L117.93 234.76L120.26 233.16L121.42 233.16L121.42 243.00Z" fill="#000"/>
<text x="124.51" y="243">0</text>
<text x="174.95" y="243" text-anchor="middle" xml:space="preserve"> 0</text>
<path d="M225.41 243.00L225.41 234.36L223.19 235.95L223.19 234.76L225.52 233.16L226.68 233.16L226.68 243.00Z" fill="#000"/>
<text x="229.77" y="243">0</text>
<text x="280.61" y="243" text-anchor="middle" xml:space="preserve"> 20</text>
<text x="333.43" y="243" text-anchor="middle" xml:space="preserve"> 30</text>
<text x="60.0" y="228.15" text-anchor="end">-2</text>
<text x="60.0" y="183.55" text-anchor="end">0</text>
<text x="60.0" y="138.95" text-anchor="end">2</text>
<text x="60.0" y="94.35" text-anchor="end">4</text>
<text x="60.0" y="49.75" text-anchor="end">6</text>
</g>
<text x="84.2" y="42.2" font-family="Liberation Serif, serif" font-size="25px" fill="#222" stroke="#fff" stroke-width="0.7" font-weight="bold">(a)</text>
<text transform="translate(76.091,208.900) scale(0.2794,0.2637)" font-family="Liberation Serif, serif" font-style="italic" font-size="100px" fill="#222" stroke="#fff" stroke-width="2.03">h</text>
<text transform="translate(90.152,214.800) scale(0.1875,0.1560)" font-family="Liberation Serif, serif" font-size="100px" fill="#222" stroke="#fff" stroke-width="1.46">1</text>
<path d="M91.1 194.7h11.7M96.95 189.8v9.9" stroke="#222" stroke-width="0.9" fill="none"/>
<path d="M111.8 200.1h16.6M111.8 204.9h16.6" stroke="#222" stroke-width="0.9" fill="none"/>
<text transform="translate(136.643,212.027) scale(0.3610,0.3256)" font-family="Liberation Serif, serif" font-size="100px" fill="#222" stroke="#fff" stroke-width="1.60">∞</text>
<path transform="translate(192.50,251.00)" d="M0.26 4.61C1.31 1.79 2.62 1.02 4.72 1.02L13.10 1.02M7.60 1.02L4.45 12.29" stroke="#222" stroke-width="1.35" fill="none" stroke-linecap="round"/>
<path d="M195.30 248.80c1.22 -3.00 2.82 -3.00 4.70 -1.50s3.48 1.50 4.70 -1.50" stroke="#222" stroke-width="1.1" fill="none" stroke-linecap="round"/>
<text transform="translate(0,0) rotate(-90) translate(-173.669,38.342) scale(0.2631,0.2643)" font-family="Liberation Serif, serif" font-style="italic" font-size="100px" fill="#222" stroke="#fff" stroke-width="2.09">ϑ</text>
<path d="M17.4 167.4l-3.3-3.1 3.3-3.1" stroke="#222" stroke-width="0.9" fill="none"/>
<path d="M17.00 154.90Q25.40 163.90 33.80 154.90L33.80 154.40Q25.40 161.70 17.00 154.40Z" fill="#222"/>
<text transform="translate(0,0) rotate(-90) translate(-153.117,30.200) scale(0.2128,0.1680)" font-family="Liberation Serif, serif" font-style="italic" font-size="100px" fill="#222" stroke="#fff" stroke-width="1.31">I</text>
<path d="M17.00 141.90Q25.40 132.90 33.80 141.90L33.80 142.40Q25.40 135.10 17.00 142.40Z" fill="#222"/>
<path d="M19.50 127.00Q32.20 139.80 44.90 127.00L44.90 126.55Q32.20 137.35 19.50 126.55Z" fill="#222"/>
<path transform="rotate(-90) translate(-125.70,27.30)" d="M0.22 4.07C1.10 1.58 2.20 0.90 3.96 0.90L11.00 0.90M6.38 0.90L3.74 10.85" stroke="#222" stroke-width="1.35" fill="none" stroke-linecap="round"/>
<path d="M24.50 124.40c-3.00 -1.10 -3.00 -2.55 -1.50 -4.25s1.50 -3.15 -1.50 -4.25" stroke="#222" stroke-width="1.0" fill="none" stroke-linecap="round"/>
<text transform="translate(0,0) rotate(-90) translate(-112.172,38.568) scale(0.2552,0.2881)" font-family="Liberation Serif, serif" font-size="100px" fill="#222" stroke="#fff" stroke-width="0.74">,</text>
<text transform="translate(0,0) rotate(-90) translate(-102.244,39.300) scale(0.2889,0.2421)" font-family="Liberation Serif, serif" font-style="italic" font-size="100px" fill="#222" stroke="#fff" stroke-width="2.07">h</text>
<path d="M17.20 100.70c-3.00 -1.25 -3.00 -2.88 -1.50 -4.80s1.50 -3.55 -1.50 -4.80" stroke="#222" stroke-width="1.0" fill="none" stroke-linecap="round"/>
<text transform="translate(0,0) rotate(-90) translate(-91.022,43.200) scale(0.2301,0.1757)" font-family="Liberation Serif, serif" font-size="100px" fill="#222" stroke="#fff" stroke-width="1.23">1</text>
<path d="M19.50 77.30Q32.20 64.50 44.90 77.30L44.90 77.75Q32.20 66.95 19.50 77.75Z" fill="#222"/>
<text transform="translate(226.821,73.100) scale(0.1883,0.1558)" font-family="Liberation Serif, serif" font-style="italic" font-size="100px" fill="#222" stroke="#fff" stroke-width="1.45">L</text>
<path d="M241.5 67.8h10.5M241.5 70.6h10.5" stroke="#222" stroke-width="0.7" fill="none"/>
<text x="256.6" y="73.1" font-family="Liberation Serif, serif" font-size="15.5px" fill="#222" stroke="#fff" stroke-width="0.25" textLength="21.4" lengthAdjust="spacingAndGlyphs">9.5</text>
<path d="M217.10 64.00L217.10 71.00M220.13 65.75L214.07 69.25M220.13 69.25L214.07 65.75" stroke="#222" stroke-width="0.8" fill="none"/>
<text transform="translate(226.821,90.600) scale(0.1883,0.1558)" font-family="Liberation Serif, serif" font-style="italic" font-size="100px" fill="#222" stroke="#fff" stroke-width="1.45">L</text>
<path d="M241.5 85.3h10.5M241.5 88.1h10.5" stroke="#222" stroke-width="0.7" fill="none"/>
<text x="256.6" y="90.6" font-family="Liberation Serif, serif" font-size="15.5px" fill="#222" stroke="#fff" stroke-width="0.25" textLength="29.5" lengthAdjust="spacingAndGlyphs">14.5</text>
<rect x="214.4" y="82.5" width="5.4" height="5.4" fill="#000"/>
<text transform="translate(226.821,107.800) scale(0.1883,0.1558)" font-family="Liberation Serif, serif" font-style="italic" font-size="100px" fill="#222" stroke="#fff" stroke-width="1.45">L</text>
<path d="M241.5 102.5h10.5M241.5 105.3h10.5" stroke="#222" stroke-width="0.7" fill="none"/>
<text x="256.6" y="107.8" font-family="Liberation Serif, serif" font-size="15.5px" fill="#222" stroke="#fff" stroke-width="0.25" textLength="29.5" lengthAdjust="spacingAndGlyphs">19.5</text>
<path d="M213.9 104.7h6.4l-3.2-5.2z" fill="#000"/>
<text transform="translate(251.918,41.800) scale(0.1610,0.1513)" font-family="Liberation Serif, serif" font-style="italic" font-size="100px" fill="#222" stroke="#fff" stroke-width="1.60">h</text>
<path d="M253.30 29.60c0.70 -2.00 1.62 -2.00 2.70 -1.00s2.00 1.00 2.70 -1.00" stroke="#222" stroke-width="0.9" fill="none" stroke-linecap="round"/>
<text x="260.3" y="44.6" font-family="Liberation Serif, serif" font-size="10.5px" fill="#222" stroke="#fff" stroke-width="0.15" >1</text>
<path d="M271 36.3h10.6M271 39.1h10.6" stroke="#222" stroke-width="0.7" fill="none"/>
<text x="319.3" y="41.70" font-family="Liberation Serif, serif" font-size="14.6px" fill="#222" stroke="#fff" stroke-width="0.25" text-anchor="end">100</text>
<path d="M287.00 37.80h9.1" stroke="#222" stroke-width="0.8" fill="none"/>
<path d="M323.9 37.90h6.2l-3.1-5.1z" fill="#0000ff"/>
<text x="319.3" y="56.15" font-family="Liberation Serif, serif" font-size="14.6px" fill="#222" stroke="#fff" stroke-width="0.25" text-anchor="end">8</text>
<path d="M301.60 52.25h9.1" stroke="#222" stroke-width="0.8" fill="none"/>
<path d="M323.9 52.40h6.2l-3.1-5.1z" fill="#c80000"/>
<text x="319.3" y="70.60" font-family="Liberation Serif, serif" font-size="14.6px" fill="#222" stroke="#fff" stroke-width="0.25" text-anchor="end">4</text>
<path d="M301.60 66.70h9.1" stroke="#222" stroke-width="0.8" fill="none"/>
<path d="M323.9 66.90h6.2l-3.1-5.1z" fill="#00c800"/>
<text x="319.3" y="85.05" font-family="Liberation Serif, serif" font-size="14.6px" fill="#222" stroke="#fff" stroke-width="0.25" text-anchor="end">2</text>
<path d="M301.60 81.15h9.1" stroke="#222" stroke-width="0.8" fill="none"/>
<path d="M323.9 81.40h6.2l-3.1-5.1z" fill="#a0a0a0"/>
<text x="319.3" y="99.50" font-family="Liberation Serif, serif" font-size="14.6px" fill="#222" stroke="#fff" stroke-width="0.25" text-anchor="end">0</text>
<path d="M323.9 95.90h6.2l-3.1-5.1z" fill="#c800c8"/>
<text x="319.3" y="113.95" font-family="Liberation Serif, serif" font-size="14.6px" fill="#222" stroke="#fff" stroke-width="0.25" text-anchor="end">2</text>
<path d="M323.9 110.40h6.2l-3.1-5.1z" fill="#00c8c8"/>
<text x="319.3" y="128.40" font-family="Liberation Serif, serif" font-size="14.6px" fill="#222" stroke="#fff" stroke-width="0.25" text-anchor="end">6</text>
<path d="M323.9 124.90h6.2l-3.1-5.1z" fill="#000000"/>
<text x="321.0" y="142.85" font-family="Liberation Serif, serif" font-size="14.6px" fill="#222" stroke="#fff" stroke-width="0.25" text-anchor="end">100</text>
<path d="M323.9 139.40h6.2l-3.1-5.1z" fill="#c8a000"/>
</svg>
</body></html>
